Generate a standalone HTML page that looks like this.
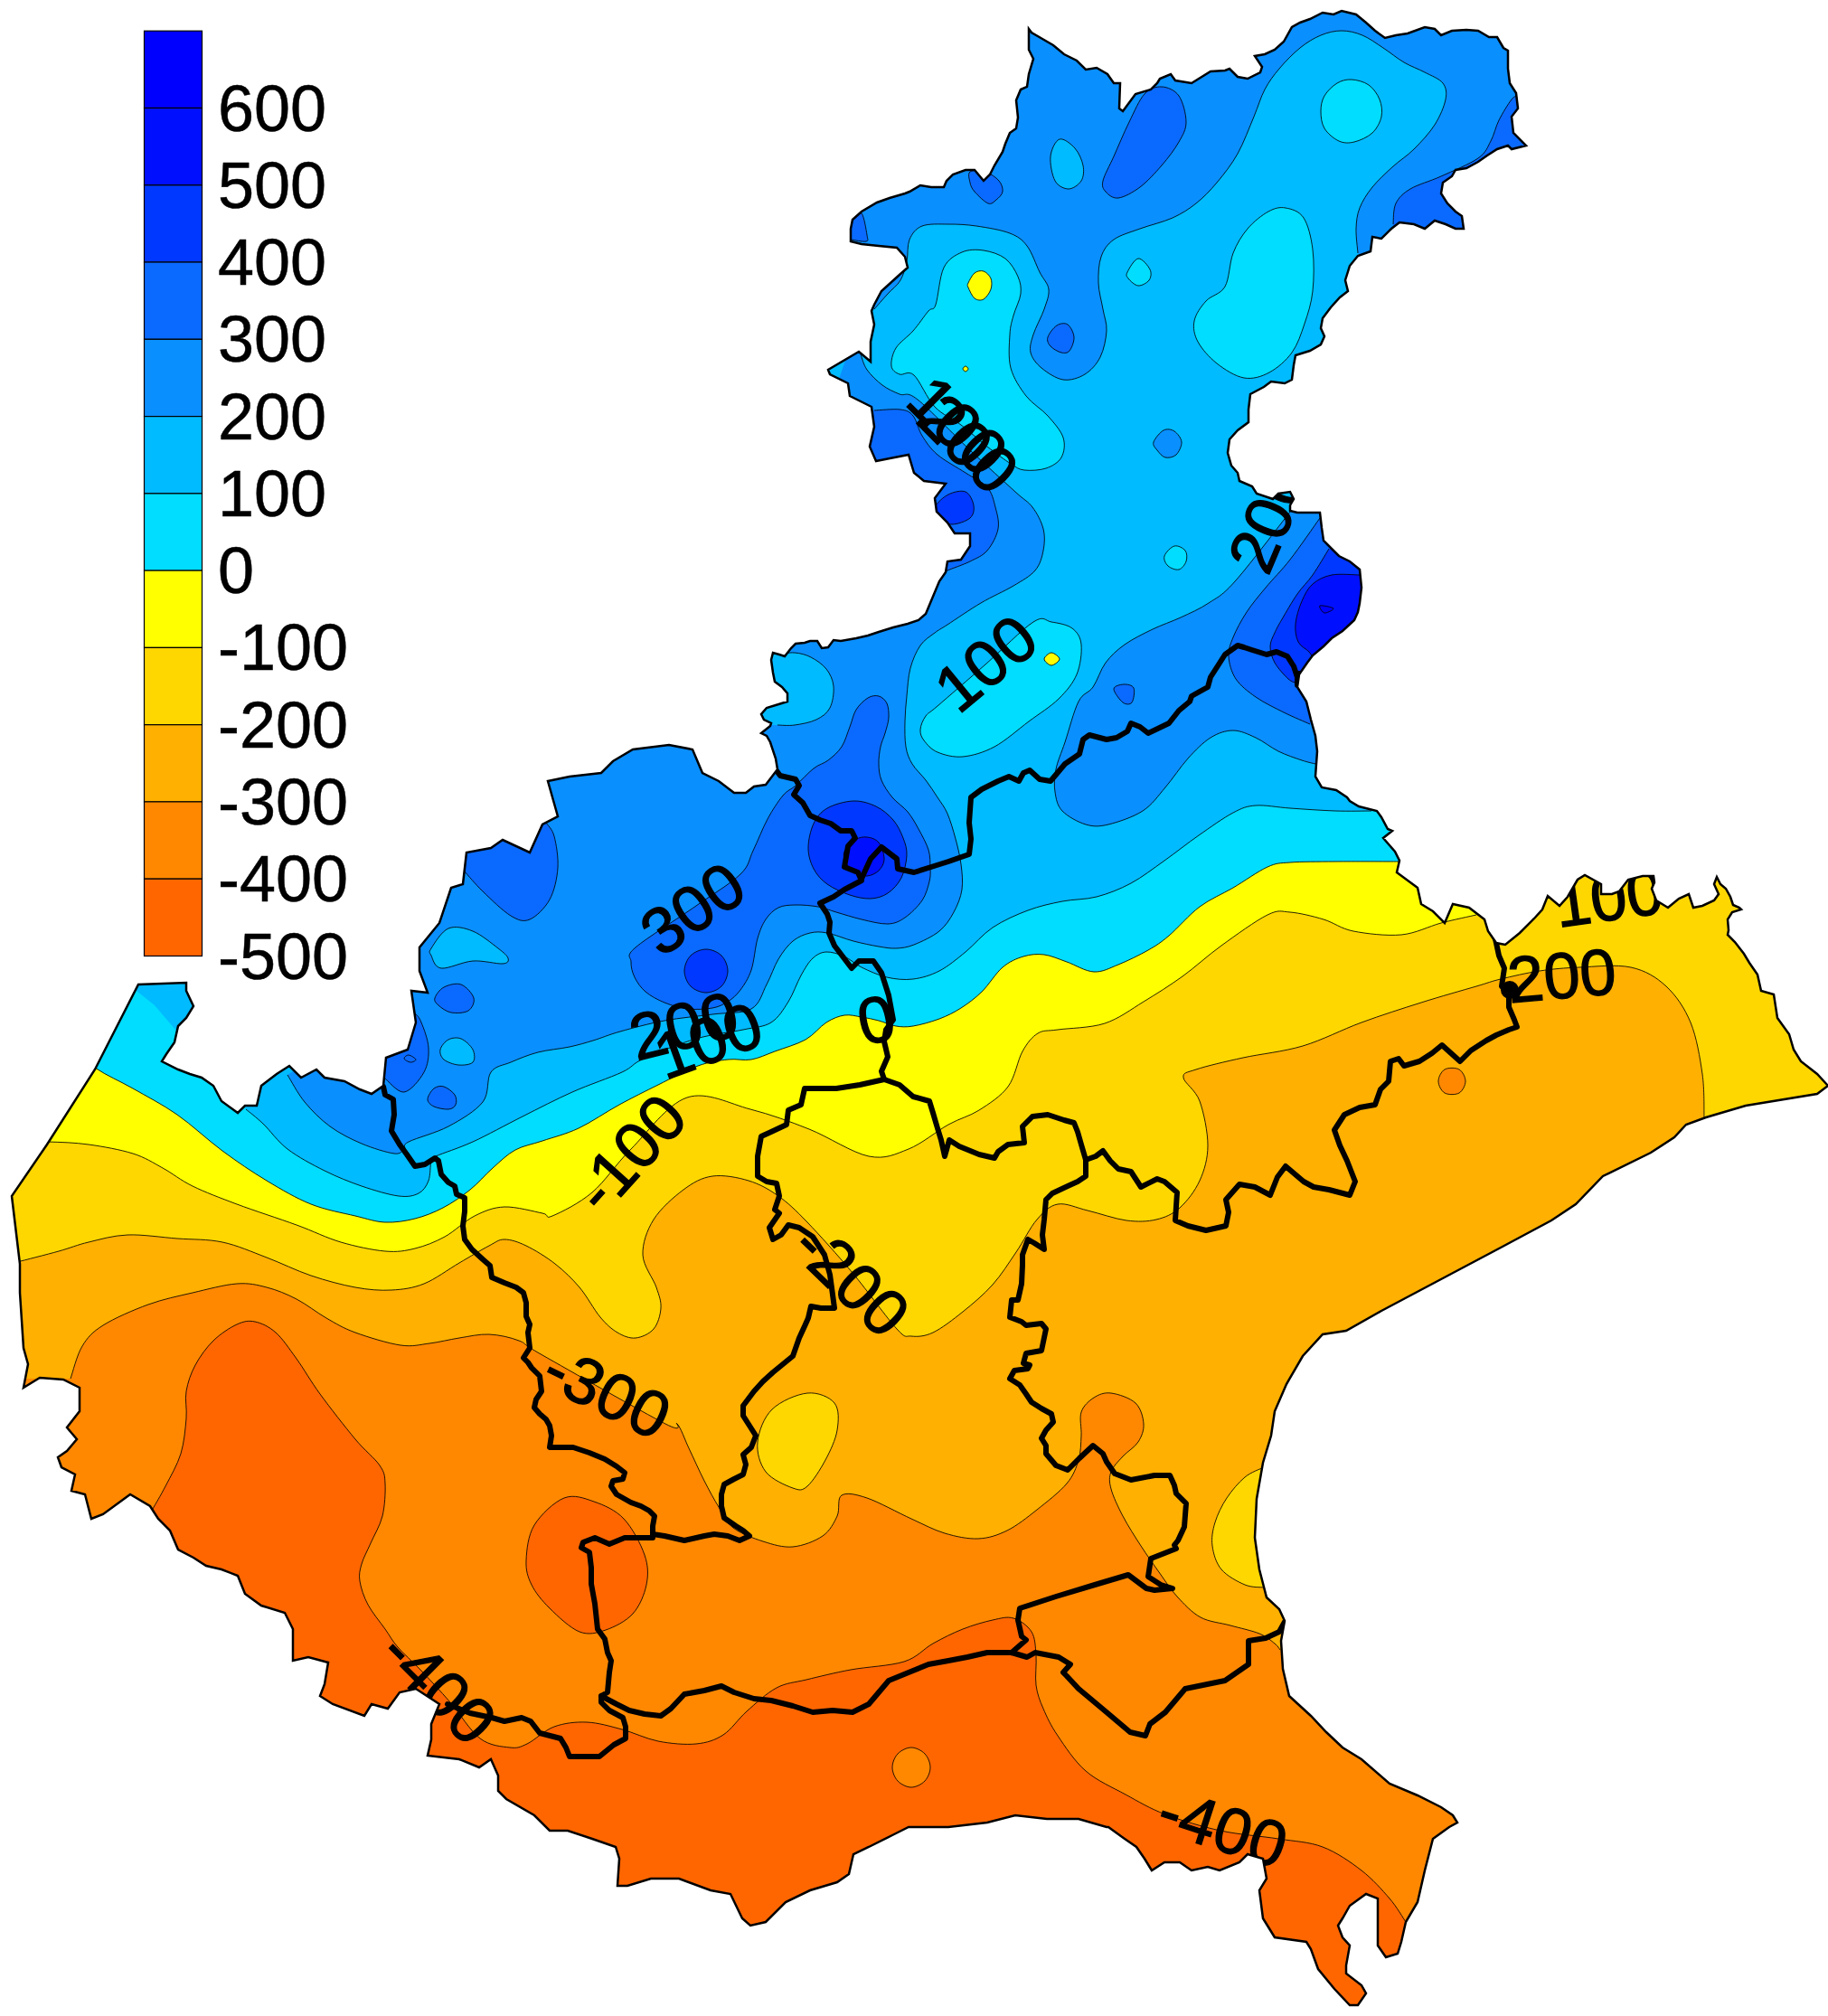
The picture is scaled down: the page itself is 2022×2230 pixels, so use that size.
<!DOCTYPE html>
<html><head><meta charset="utf-8"><style>
html,body{margin:0;padding:0;background:#fff;}
svg{display:block;}
text{font-family:"Liberation Sans",sans-serif;}
</style></head><body>
<svg width="2022" height="2230" viewBox="0 0 2022 2230" xmlns="http://www.w3.org/2000/svg">
<defs><clipPath id="cp"><path d="M1138,32 L1141,36 L1153,43 L1165,50 L1177,60 L1191,67 L1201,77 L1213,75 L1225,82 L1232,92 L1239,92 L1238,120 L1242,123 L1256,104 L1273,99 L1280,92 L1283,87 L1295,82 L1300,89 L1318,92 L1339,79 L1355,78 L1360,76 L1369,85 L1380,87 L1394,80 L1396,74 L1388,62 L1399,60 L1410,55 L1420,46 L1429,30 L1438,25 L1449,21 L1463,14 L1475,16 L1484,12 L1500,16 L1511,25 L1521,34 L1532,42 L1544,39 L1557,37 L1576,30 L1587,32 L1594,39 L1606,34 L1622,33 L1635,34 L1647,41 L1656,41 L1663,53 L1668,56 L1668,76 L1670,92 L1677,103 L1679,120 L1672,129 L1674,147 L1688,161 L1672,165 L1668,161 L1656,165 L1645,172 L1635,179 L1622,186 L1610,188 L1606,195 L1596,202 L1594,214 L1601,225 L1610,234 L1617,239 L1619,253 L1610,253 L1599,248 L1587,244 L1576,253 L1564,248 L1548,246 L1539,253 L1528,264 L1518,262 L1516,278 L1502,283 L1493,294 L1488,310 L1491,322 L1482,329 L1472,340 L1463,352 L1461,363 L1465,372 L1461,381 L1449,388 L1433,393 L1431,404 L1429,420 L1421,424 L1406,422 L1398,428 L1383,436 L1381,453 L1381,467 L1369,476 L1360,486 L1358,501 L1362,515 L1369,523 L1371,532 L1385,538 L1390,546 L1408,552 L1414,546 L1427,544 L1431,552 L1427,559 L1427,565 L1435,567 L1460,567 L1462,584 L1464,598 L1473,607 L1481,615 L1493,621 L1504,630 L1506,650 L1504,667 L1502,677 L1498,686 L1485,698 L1473,706 L1464,715 L1452,725 L1446,733 L1437,746 L1435,760 L1445,776 L1450,796 L1455,814 L1457,831 L1455,859 L1462,871 L1478,874 L1490,882 L1493,886 L1503,892 L1523,897 L1528,904 L1535,917 L1540,919 L1530,927 L1543,942 L1548,952 L1545,965 L1568,982 L1572,1000 L1585,1008 L1598,1021 L1607,1000 L1625,1004 L1642,1017 L1646,1030 L1655,1043 L1665,1045 L1681,1032 L1697,1016 L1706,1006 L1712,991 L1725,1002 L1734,992 L1745,973 L1753,968 L1771,978 L1771,989 L1783,989 L1791,986 L1801,973 L1817,969 L1829,969 L1830,976 L1827,983 L1832,996 L1845,1004 L1857,994 L1868,989 L1873,1004 L1883,1002 L1896,996 L1901,989 L1896,978 L1899,970 L1903,978 L1909,983 L1914,992 L1917,1001 L1924,1004 L1926,1006 L1916,1009 L1911,1017 L1912,1029 L1911,1034 L1919,1042 L1929,1055 L1935,1065 L1944,1078 L1948,1096 L1962,1100 L1966,1126 L1979,1144 L1984,1161 L1992,1174 L2010,1188 L2022,1201 L2010,1210 L1931,1223 L1887,1236 L1865,1244 L1852,1258 L1826,1275 L1773,1301 L1743,1332 L1716,1350 L1660,1380 L1594,1415 L1528,1450 L1489,1472 L1463,1476 L1441,1500 L1423,1531 L1410,1561 L1406,1588 L1397,1618 L1390,1658 L1388,1701 L1393,1736 L1401,1767 L1415,1780 L1421,1793 L1417,1815 L1419,1846 L1426,1876 L1450,1898 L1467,1916 L1485,1933 L1506,1946 L1537,1973 L1568,1986 L1594,1999 L1607,2008 L1612,2016 L1603,2021 L1585,2034 L1576,2069 L1568,2104 L1555,2126 L1550,2148 L1546,2161 L1533,2165 L1524,2152 L1524,2122 L1524,2100 L1511,2095 L1493,2108 L1485,2122 L1480,2130 L1485,2143 L1493,2152 L1489,2174 L1489,2183 L1506,2196 L1511,2205 L1502,2218 L1493,2218 L1476,2200 L1458,2178 L1450,2156 L1445,2148 L1410,2143 L1397,2122 L1393,2091 L1401,2078 L1397,2056 L1380,2051 L1371,2060 L1349,2069 L1336,2065 L1318,2069 L1305,2060 L1288,2060 L1274,2069 L1266,2056 L1257,2043 L1244,2034 L1226,2021 L1224,2021 L1193,2012 L1158,2012 L1123,2008 L1092,2016 L1049,2021 L1005,2021 L987,2030 L961,2043 L944,2051 L939,2073 L926,2082 L896,2091 L869,2104 L847,2126 L830,2130 L821,2122 L808,2095 L786,2091 L751,2078 L720,2078 L694,2086 L683,2086 L685,2056 L681,2043 L655,2034 L628,2025 L608,2025 L591,2008 L560,1990 L551,1981 L551,1964 L543,1946 L530,1955 L508,1946 L473,1942 L477,1924 L477,1907 L486,1885 L460,1868 L442,1872 L429,1890 L411,1885 L403,1898 L368,1885 L354,1876 L359,1863 L363,1839 L341,1833 L324,1837 L324,1802 L315,1784 L289,1776 L271,1763 L263,1743 L245,1736 L228,1732 L214,1723 L197,1714 L188,1693 L175,1680 L166,1666 L144,1653 L114,1675 L101,1680 L94,1653 L79,1649 L83,1631 L68,1623 L64,1612 L74,1605 L85,1592 L74,1579 L88,1561 L88,1535 L70,1526 L44,1524 L26,1535 L31,1509 L26,1491 L22,1430 L22,1398 L13,1323 L52,1266 L105,1183 L153,1089 L206,1087 L206,1096 L214,1113 L206,1126 L197,1135 L193,1153 L184,1166 L179,1174 L197,1183 L210,1188 L223,1192 L236,1201 L245,1218 L263,1231 L271,1223 L284,1223 L289,1201 L306,1188 L320,1179 L333,1192 L350,1183 L359,1192 L381,1196 L398,1205 L411,1210 L424,1201 L427,1170 L451,1161 L460,1131 L455,1096 L473,1098 L464,1074 L464,1048 L486,1021 L499,982 L512,978 L516,943 L543,938 L556,929 L586,943 L600,912 L617,903 L606,864 L630,859 L665,855 L678,842 L700,829 L740,824 L766,829 L777,855 L795,864 L812,877 L825,877 L834,870 L847,868 L860,851 L858,839 L852,821 L848,814 L842,811 L852,803 L853,800 L845,796 L842,790 L848,783 L858,780 L871,776 L871,767 L865,760 L857,754 L855,744 L853,730 L855,722 L862,724 L868,726 L875,717 L880,712 L890,711 L896,709 L904,709 L909,717 L916,716 L922,708 L930,709 L947,706 L960,703 L972,699 L988,694 L1004,690 L1016,686 L1024,679 L1029,667 L1039,643 L1046,633 L1048,621 L1063,619 L1073,604 L1073,590 L1056,590 L1048,578 L1036,566 L1034,551 L1046,535 L1022,532 L1011,523 L1005,503 L969,510 L962,494 L967,472 L964,450 L940,438 L938,424 L918,414 L916,409 L950,389 L963,400 L963,378 L967,359 L964,344 L967,337 L975,322 L996,303 L1004,296 L1001,284 L992,274 L972,272 L953,270 L941,267 L941,253 L943,243 L953,234 L970,224 L984,219 L1001,214 L1006,212 L1018,205 L1030,207 L1044,207 L1047,200 L1054,193 L1068,188 L1078,188 L1088,200 L1095,193 L1100,183 L1109,168 L1112,159 L1117,147 L1124,142 L1126,130 L1124,111 L1129,99 L1136,96 L1138,82 L1143,65 L1138,55Z"/></clipPath></defs>
<g clip-path="url(#cp)">
<rect x="0" y="0" width="2022" height="2230" fill="#FF6600"/>
<path d="M169,1669 C171.3,1664.8 177.8,1654.2 183,1644 C188.2,1633.8 196.2,1620.5 200,1608 C203.8,1595.5 205,1580.5 206,1569 C207,1557.5 204.3,1548.8 206,1539 C207.7,1529.2 211,1519.3 216,1510 C221,1500.7 228.3,1490.5 236,1483 C243.7,1475.5 254.3,1468.5 262,1465 C269.7,1461.5 274.8,1460.5 282,1462 C289.2,1463.5 297.3,1467.2 305,1474 C312.7,1480.8 319.8,1491.7 328,1503 C336.2,1514.3 343.2,1527.2 354,1542 C364.8,1556.8 382,1578.8 393,1592 C404,1605.2 414.5,1612.8 420,1621 C425.5,1629.2 425.5,1631.7 426,1641 C426.5,1650.3 425.7,1666 423,1677 C420.3,1688 413.8,1698.2 410,1707 C406.2,1715.8 402,1723 400,1730 C398,1737 396.8,1741.5 398,1749 C399.2,1756.5 402.3,1766.2 407,1775 C411.7,1783.8 420.5,1794.2 426,1802 C431.5,1809.8 433.5,1814.5 440,1822 C446.5,1829.5 455.3,1836.8 465,1847 C474.7,1857.2 487,1870.3 498,1883 C509,1895.7 520,1914.7 531,1923 C542,1931.3 555.3,1932 564,1933 C572.7,1934 574.8,1932.8 583,1929 C591.2,1925.2 602,1914 613,1910 C624,1906 636.5,1904.5 649,1905 C661.5,1905.5 674.8,1909.5 688,1913 C701.2,1916.5 714.3,1923.3 728,1926 C741.7,1928.7 758,1930.2 770,1929 C782,1927.8 790.7,1925 800,1919 C809.3,1913 816.2,1901.7 826,1893 C835.8,1884.3 848,1872.8 859,1867 C870,1861.2 878.3,1861.3 892,1858 C905.7,1854.7 923,1850.3 941,1847 C959,1843.7 984.8,1842.8 1000,1838 C1015.2,1833.2 1021.2,1824 1032,1818 C1042.8,1812 1054,1806.3 1065,1802 C1076,1797.7 1088.7,1794 1098,1792 C1107.3,1790 1113.8,1787.8 1121,1790 C1128.2,1792.2 1136.8,1798.2 1141,1805 C1145.2,1811.8 1145.2,1821.2 1146,1831 C1146.8,1840.8 1144.7,1854.2 1146,1864 C1147.3,1873.8 1150,1880.7 1154,1890 C1158,1899.3 1162.2,1908.5 1170,1920 C1177.8,1931.5 1188.5,1948.2 1201,1959 C1213.5,1969.8 1230.3,1977 1245,1985 C1259.7,1993 1271.5,2000.3 1289,2007 C1306.5,2013.7 1329.2,2020.5 1350,2025 C1370.8,2029.5 1395.2,2031 1414,2034 C1432.8,2037 1447.7,2037.2 1463,2043 C1478.3,2048.8 1493.7,2059.5 1506,2069 C1518.3,2078.5 1528.8,2090.5 1537,2100 C1545.2,2109.5 1552,2121.7 1555,2126 L1580,2110 L2100,2110 L2100,-50 L-50,-50 L-50,1700 L140,1700Z" fill="#FF8800"/>
<path d="M987,1955 C987,1950 989.5,1943.7 993,1940 C996.5,1936.3 1003,1933 1008,1933 C1013,1933 1019.5,1936.3 1023,1940 C1026.5,1943.7 1029,1950 1029,1955 C1029,1960 1026.5,1966.3 1023,1970 C1019.5,1973.7 1013,1977 1008,1977 C1003,1977 996.5,1973.7 993,1970 C989.5,1966.3 987,1960 987,1955Z" fill="#FF8800"/>
<path d="M582,1726 C582.5,1715 584,1698.5 591,1687 C598,1675.5 613,1661.3 624,1657 C635,1652.7 646,1657.2 657,1661 C668,1664.8 680.7,1670.2 690,1680 C699.3,1689.8 708.8,1707.8 713,1720 C717.2,1732.2 717.2,1742.2 715,1753 C712.8,1763.8 707.5,1776.7 700,1785 C692.5,1793.3 679.8,1799.7 670,1803 C660.2,1806.3 651.3,1809 641,1805 C630.7,1801 616.8,1787.7 608,1779 C599.2,1770.3 592.3,1761.8 588,1753 C583.7,1744.2 581.5,1737 582,1726Z" fill="#FF6600"/>
<path d="M78,1525 C80.2,1519 85,1498.8 91,1489 C97,1479.2 101.8,1473.7 114,1466 C126.2,1458.3 147.5,1449 164,1443 C180.5,1437 196.7,1433.8 213,1430 C229.3,1426.2 248.3,1421 262,1420 C275.7,1419 284,1421.2 295,1424 C306,1426.8 317,1431.3 328,1437 C339,1442.7 350.2,1451.8 361,1458 C371.8,1464.2 379.3,1469 393,1474 C406.7,1479 429.3,1486 443,1488 C456.7,1490 464.2,1487.3 475,1486 C485.8,1484.7 497,1481.7 508,1480 C519,1478.3 530,1475.5 541,1476 C552,1476.5 564.2,1479.2 574,1483 C583.8,1486.8 573,1483.7 600,1499 C627,1514.3 711.2,1562.3 736,1575 C760.8,1587.7 744.7,1570.5 749,1575 C753.3,1579.5 757,1591.5 762,1602 C767,1612.5 773.5,1627.2 779,1638 C784.5,1648.8 789.7,1658.3 795,1667 C800.3,1675.7 802.8,1683.7 811,1690 C819.2,1696.3 833,1701.5 844,1705 C855,1708.5 866,1712 877,1711 C888,1710 901.8,1704.7 910,1699 C918.2,1693.3 922.5,1684.5 926,1677 C929.5,1669.5 925.5,1657.3 931,1654 C936.5,1650.7 946.2,1652.7 959,1657 C971.8,1661.3 993.7,1673.5 1008,1680 C1022.3,1686.5 1032.7,1692.3 1045,1696 C1057.3,1699.7 1070.5,1702.5 1082,1702 C1093.5,1701.5 1103.2,1698.3 1114,1693 C1124.8,1687.7 1136,1678.7 1147,1670 C1158,1661.3 1172.3,1650.2 1180,1641 C1187.7,1631.8 1190.3,1623.8 1193,1615 C1195.7,1606.2 1195.5,1596.8 1196,1588 C1196.5,1579.2 1193.7,1569 1196,1562 C1198.3,1555 1204.5,1549.5 1210,1546 C1215.5,1542.5 1221.3,1540 1229,1541 C1236.7,1542 1250,1546.3 1256,1552 C1262,1557.7 1264.5,1567.8 1265,1575 C1265.5,1582.2 1262.8,1589 1259,1595 C1255.2,1601 1247,1605.5 1242,1611 C1237,1616.5 1231.2,1622 1229,1628 C1226.8,1634 1226.8,1638.8 1229,1647 C1231.2,1655.2 1236.5,1666.5 1242,1677 C1247.5,1687.5 1255.3,1699.7 1262,1710 C1268.7,1720.3 1275.3,1729.7 1282,1739 C1288.7,1748.3 1294.3,1757.7 1302,1766 C1309.7,1774.3 1318.2,1783.7 1328,1789 C1337.8,1794.3 1350.2,1795 1361,1798 C1371.8,1801 1384.8,1803.7 1393,1807 C1401.2,1810.3 1406.2,1815 1410,1818 C1413.8,1821 1415,1823.8 1416,1825 L1430,1815 L2100,1815 L2100,-50 L-50,-50 L-50,1525Z" fill="#FFB000"/>
<path d="M1591,1196 C1591,1191.7 1594.2,1185.2 1598,1183 C1601.8,1180.8 1610.2,1180.8 1614,1183 C1617.8,1185.2 1621,1191.7 1621,1196 C1621,1200.3 1617.8,1206.8 1614,1209 C1610.2,1211.2 1601.8,1211.2 1598,1209 C1594.2,1206.8 1591,1200.3 1591,1196Z" fill="#FF8800"/>
<path d="M19,1396 C26.7,1394 51.8,1387.7 65,1384 C78.2,1380.3 85.3,1377 98,1374 C110.7,1371 124.7,1366.7 141,1366 C157.3,1365.3 178.5,1368.7 196,1370 C213.5,1371.3 229.5,1370.5 246,1374 C262.5,1377.5 278.7,1384.8 295,1391 C311.3,1397.2 327.7,1405.5 344,1411 C360.3,1416.5 378.2,1421.3 393,1424 C407.8,1426.7 420.3,1427.7 433,1427 C445.7,1426.3 456.5,1425 469,1420 C481.5,1415 496,1404 508,1397 C520,1390 532.7,1382.3 541,1378 C549.3,1373.7 551.2,1371 558,1371 C564.8,1371 572.7,1373.5 582,1378 C591.3,1382.5 604.2,1390.3 614,1398 C623.8,1405.7 632.7,1414.2 641,1424 C649.3,1433.8 657,1448.7 664,1457 C671,1465.3 676.5,1470.2 683,1474 C689.5,1477.8 696.3,1480.7 703,1480 C709.7,1479.3 718.3,1475.5 723,1470 C727.7,1464.5 730.5,1454.7 731,1447 C731.5,1439.3 729.3,1433.8 726,1424 C722.7,1414.2 711.5,1400.5 711,1388 C710.5,1375.5 715.5,1361 723,1349 C730.5,1337 745.2,1324 756,1316 C766.8,1308 776,1302.7 788,1301 C800,1299.3 815.8,1302.3 828,1306 C840.2,1309.7 850.2,1315.3 861,1323 C871.8,1330.7 879.3,1337.8 893,1352 C906.7,1366.2 926.5,1388.3 943,1408 C959.5,1427.7 981.2,1458.3 992,1470 C1002.8,1481.7 1001.3,1477.3 1008,1478 C1014.7,1478.7 1022.5,1478.5 1032,1474 C1041.5,1469.5 1054,1459.8 1065,1451 C1076,1442.2 1088.2,1432 1098,1421 C1107.8,1410 1115.8,1397 1124,1385 C1132.2,1373 1139.3,1357.8 1147,1349 C1154.7,1340.2 1160.7,1333.7 1170,1332 C1179.3,1330.3 1190.3,1336 1203,1339 C1215.7,1342 1233.3,1348.3 1246,1350 C1258.7,1351.7 1269.2,1351.3 1279,1349 C1288.8,1346.7 1297,1343.2 1305,1336 C1313,1328.8 1321.8,1317.5 1327,1306 C1332.2,1294.5 1336,1281.7 1336,1267 C1336,1252.3 1331.5,1230.5 1327,1218 C1322.5,1205.5 1309.7,1197.8 1309,1192 C1308.3,1186.2 1312,1186.7 1323,1183 C1334,1179.3 1355.3,1174.3 1375,1170 C1394.7,1165.7 1419.2,1163.5 1441,1157 C1462.8,1150.5 1484.2,1139 1506,1131 C1527.8,1123 1550.8,1115.7 1572,1109 C1593.2,1102.3 1618.3,1095.3 1633,1091 C1647.7,1086.7 1648.3,1085.8 1660,1083 C1671.7,1080.2 1688.5,1076.2 1703,1074 C1717.5,1071.8 1730.2,1070.7 1747,1070 C1763.8,1069.3 1788,1066.5 1804,1070 C1820,1073.5 1832,1080.8 1843,1091 C1854,1101.2 1863.3,1114.8 1870,1131 C1876.7,1147.2 1880.5,1170.5 1883,1188 C1885.5,1205.5 1884.7,1228 1885,1236 L1900,1240 L2100,1240 L2100,-50 L-50,-50 L-50,1397Z" fill="#FFD700"/>
<path d="M838,1595 C839.2,1583.5 844.8,1568 854,1559 C863.2,1550 881.5,1542.2 893,1541 C904.5,1539.8 917.5,1545.2 923,1552 C928.5,1558.8 927.7,1571.5 926,1582 C924.3,1592.5 918.5,1604.7 913,1615 C907.5,1625.3 899,1638.8 893,1644 C887,1649.2 884.7,1648.7 877,1646 C869.3,1643.3 853.5,1636.5 847,1628 C840.5,1619.5 836.8,1606.5 838,1595Z" fill="#FFD700"/>
<path d="M1398,1623 C1394.5,1624.8 1383.8,1628.3 1377,1634 C1370.2,1639.7 1362.5,1648.7 1357,1657 C1351.5,1665.3 1346.7,1675.2 1344,1684 C1341.3,1692.8 1339.8,1701.3 1341,1710 C1342.2,1718.7 1345,1728.8 1351,1736 C1357,1743.2 1369.2,1749.7 1377,1753 C1384.8,1756.3 1394.5,1755.5 1398,1756 L1460,1756 L1460,1623Z" fill="#FFD700"/>
<path d="M0,1263 C8.7,1263 35.7,1262.5 52,1263 C68.3,1263.5 82.2,1263.8 98,1266 C113.8,1268.2 133.3,1271.7 147,1276 C160.7,1280.3 169,1286 180,1292 C191,1298 199.3,1305.3 213,1312 C226.7,1318.7 242.8,1324.8 262,1332 C281.2,1339.2 308.8,1348 328,1355 C347.2,1362 360.7,1369.2 377,1374 C393.3,1378.8 412.3,1382.8 426,1384 C439.7,1385.2 448,1383.7 459,1381 C470,1378.3 481,1374 492,1368 C503,1362 514,1350.5 525,1345 C536,1339.5 545.5,1335.5 558,1335 C570.5,1334.5 591.2,1340.3 600,1342 C608.8,1343.7 601.8,1348.8 611,1345 C620.2,1341.2 640.5,1331.3 655,1319 C669.5,1306.7 680.5,1288.5 698,1271 C715.5,1253.5 738,1221.3 760,1214 C782,1206.7 807.5,1221.2 830,1227 C852.5,1232.8 873.2,1240.3 895,1249 C916.8,1257.7 942.7,1275.3 961,1279 C979.3,1282.7 990.3,1276.8 1005,1271 C1019.7,1265.2 1036,1251.2 1049,1244 C1062,1236.8 1072,1235 1083,1228 C1094,1221 1107,1212.8 1115,1202 C1123,1191.2 1125.5,1172.8 1131,1163 C1136.5,1153.2 1141.5,1147 1148,1143 C1154.5,1139 1157.7,1140.8 1170,1139 C1182.3,1137.2 1206.2,1137.2 1222,1132 C1237.8,1126.8 1250.7,1116.7 1265,1108 C1279.3,1099.3 1293.7,1090.3 1308,1080 C1322.3,1069.7 1335.3,1057.3 1351,1046 C1366.7,1034.7 1389.3,1018.2 1402,1012 C1414.7,1005.8 1416.7,1008.2 1427,1009 C1437.3,1009.8 1452.3,1013.5 1464,1017 C1475.7,1020.5 1482.7,1027.2 1497,1030 C1511.3,1032.8 1533.8,1035.5 1550,1034 C1566.2,1032.5 1580.2,1024.7 1594,1021 C1607.8,1017.3 1626.5,1013.5 1633,1012 L1650,995 L1700,960 L2100,940 L2100,-50 L-50,-50 L-50,1263Z" fill="#FFFF00"/>
<path d="M65,1148 C71.7,1153.5 91.3,1171.7 105,1181 C118.7,1190.3 131.8,1195.3 147,1204 C162.2,1212.7 179.5,1221.5 196,1233 C212.5,1244.5 229.5,1260.8 246,1273 C262.5,1285.2 278.7,1296.2 295,1306 C311.3,1315.8 327.7,1325.5 344,1332 C360.3,1338.5 379.3,1341.7 393,1345 C406.7,1348.3 415,1351.5 426,1352 C437,1352.5 448.3,1350.7 459,1348 C469.7,1345.3 479.8,1341.3 490,1336 C500.2,1330.7 510.8,1323.3 520,1316 C529.2,1308.7 536.7,1299.3 545,1292 C553.3,1284.7 560.8,1277 570,1272 C579.2,1267 588.3,1266 600,1262 C611.7,1258 625.8,1254.7 640,1248 C654.2,1241.3 670.3,1230 685,1222 C699.7,1214 713.5,1207.2 728,1200 C742.5,1192.8 759.2,1183.7 772,1179 C784.8,1174.3 795.2,1173.2 805,1172 C814.8,1170.8 822.3,1173.5 831,1172 C839.7,1170.5 847,1166.7 857,1163 C867,1159.3 881.5,1155.3 891,1150 C900.5,1144.7 906.8,1135.5 914,1131 C921.2,1126.5 927.5,1124 934,1123 C940.5,1122 946.7,1124 953,1125 C959.3,1126 965.7,1127.3 972,1129 C978.3,1130.7 984.7,1134 991,1135 C997.3,1136 1002,1136.3 1010,1135 C1018,1133.7 1030.2,1130.3 1039,1127 C1047.8,1123.7 1055.2,1120 1063,1115 C1070.8,1110 1078.3,1104.5 1086,1097 C1093.7,1089.5 1101.3,1076.5 1109,1070 C1116.7,1063.5 1124.3,1060.3 1132,1058 C1139.7,1055.7 1147,1055 1155,1056 C1163,1057 1170.8,1060.8 1180,1064 C1189.2,1067.2 1200.5,1074.5 1210,1075 C1219.5,1075.5 1227,1071 1237,1067 C1247,1063 1260.7,1056.3 1270,1051 C1279.3,1045.7 1283.5,1043 1293,1035 C1302.5,1027 1315.2,1011.8 1327,1003 C1338.8,994.2 1351.5,989.3 1364,982 C1376.5,974.7 1391.5,963.7 1402,959 C1412.5,954.3 1414.5,955 1427,954 C1439.5,953 1457,953.2 1477,953 C1497,952.8 1535.3,953 1547,953 L1560,940 L1600,900 L2100,900 L2100,-50 L-50,-50 L-50,1148Z" fill="#00DDFF"/>
<path d="M272,1227 C275.2,1229.7 283.3,1235.7 291,1243 C298.7,1250.3 306.7,1262.3 318,1271 C329.3,1279.7 345.3,1288.2 359,1295 C372.7,1301.8 386.3,1307.3 400,1312 C413.7,1316.7 430.5,1321.7 441,1323 C451.5,1324.3 457.5,1322.8 463,1320 C468.5,1317.2 471.7,1312 474,1306 C476.3,1300 475.7,1288.5 477,1284 C478.3,1279.5 474.3,1282.5 482,1279 C489.7,1275.5 507,1270.3 523,1263 C539,1255.7 559.7,1244.2 578,1235 C596.3,1225.8 614.7,1216.2 633,1208 C651.3,1199.8 674.8,1192.2 688,1186 C701.2,1179.8 698.3,1177.2 712,1171 C725.7,1164.8 751.7,1154.3 770,1149 C788.3,1143.7 808.2,1142 822,1139 C835.8,1136 844.7,1136.2 853,1131 C861.3,1125.8 866.5,1116.7 872,1108 C877.5,1099.3 881.5,1087 886,1079 C890.5,1071 894.3,1064.3 899,1060 C903.7,1055.7 908.2,1053.3 914,1053 C919.8,1052.7 927.5,1055.2 934,1058 C940.5,1060.8 945.2,1066.2 953,1070 C960.8,1073.8 971.5,1078.8 981,1081 C990.5,1083.2 1000.3,1084.2 1010,1083 C1019.7,1081.8 1029.3,1079 1039,1074 C1048.7,1069 1058.2,1061 1068,1053 C1077.8,1045 1086.5,1033.7 1098,1026 C1109.5,1018.3 1124.2,1011.8 1137,1007 C1149.8,1002.2 1162.3,999.5 1175,997 C1187.7,994.5 1200.3,995.3 1213,992 C1225.7,988.7 1238.5,983.7 1251,977 C1263.5,970.3 1275.5,960.8 1288,952 C1300.5,943.2 1313.3,932.8 1326,924 C1338.7,915.2 1353.5,904.5 1364,899 C1374.5,893.5 1378.5,891.8 1389,891 C1399.5,890.2 1412.3,893 1427,894 C1441.7,895 1462,896.5 1477,897 C1492,897.5 1510.3,897 1517,897 L1560,890 L2100,850 L2100,-50 L-50,-50 L-50,1080 L140,1085 L151,1096 L171,1112 L194,1139 L215,1139 L250,1191Z" fill="#00BBFF"/>
<path d="M967,342 C969.5,339.2 977.2,330.3 982,325 C986.8,319.7 992.5,316 996,310 C999.5,304 1001.3,296.5 1003,289 C1004.7,281.5 1003.2,271.5 1006,265 C1008.8,258.5 1012.8,252.8 1020,250 C1027.2,247.2 1039,248 1049,248 C1059,248 1068.7,248.3 1080,250 C1091.3,251.7 1107.7,254.3 1117,258 C1126.3,261.7 1130.5,264.8 1136,272 C1141.5,279.2 1146,293 1150,301 C1154,309 1159.2,313.2 1160,320 C1160.8,326.8 1157.8,333.7 1155,342 C1152.2,350.3 1145.5,362 1143,370 C1140.5,378 1138.5,383.8 1140,390 C1141.5,396.2 1146,402 1152,407 C1158,412 1168,418.8 1176,420 C1184,421.2 1193.2,418.2 1200,414 C1206.8,409.8 1213,403 1217,395 C1221,387 1223.5,374.8 1224,366 C1224.5,357.2 1221.5,350.8 1220,342 C1218.5,333.2 1215.3,322.7 1215,313 C1214.7,303.3 1215.2,292 1218,284 C1220.8,276 1224.8,270.2 1232,265 C1239.2,259.8 1250.2,257 1261,253 C1271.8,249 1286.7,245.7 1297,241 C1307.3,236.3 1314.8,231.5 1323,225 C1331.2,218.5 1338.3,211.2 1346,202 C1353.7,192.8 1362.2,182.2 1369,170 C1375.8,157.8 1382,140.8 1387,129 C1392,117.2 1394.3,107.8 1399,99 C1403.7,90.2 1408.5,83.7 1415,76 C1421.5,68.3 1430.3,59.2 1438,53 C1445.7,46.8 1453.3,42.2 1461,39 C1468.7,35.8 1476.3,34 1484,34 C1491.7,34 1499.3,35.8 1507,39 C1514.7,42.2 1522.3,48 1530,53 C1537.7,58 1545.3,64.5 1553,69 C1560.7,73.5 1568.8,76.2 1576,80 C1583.2,83.8 1592.2,87 1596,92 C1599.8,97 1600.5,102.3 1599,110 C1597.5,117.7 1592.8,128.8 1587,138 C1581.2,147.2 1571.7,157.3 1564,165 C1556.3,172.7 1548.7,177 1541,184 C1533.3,191 1524.2,199.3 1518,207 C1511.8,214.7 1507,222.3 1504,230 C1501,237.7 1500.3,244.7 1500,253 C1499.7,261.3 1501.7,275.5 1502,280 L1530,300 L2100,300 L2100,-50 L900,-50 L900,342Z" fill="#0A8FFF"/>
<path d="M952,392 C953.2,394.8 955,403.3 959,409 C963,414.7 970,421.5 976,426 C982,430.5 988.5,433.3 995,436 C1001.5,438.7 1002,431.7 1015,442 C1028,452.3 1055,481 1073,498 C1091,515 1111.5,533.5 1123,544 C1134.5,554.5 1136.8,554.2 1142,561 C1147.2,567.8 1152,577 1154,585 C1156,593 1155.5,601.3 1154,609 C1152.5,616.7 1150.5,624.5 1145,631 C1139.5,637.5 1131,642 1121,648 C1111,654 1097.2,659.8 1085,667 C1072.8,674.2 1056.5,685.5 1048,691 C1039.5,696.5 1039,696.2 1034,700 C1029,703.8 1022.5,707.5 1018,714 C1013.5,720.5 1009.5,729.7 1007,739 C1004.5,748.3 1004,760.2 1003,770 C1002,779.8 1001.2,788.7 1001,798 C1000.8,807.3 1000.7,818.2 1002,826 C1003.3,833.8 1005.3,838.8 1009,845 C1012.7,851.2 1019.3,856.8 1024,863 C1028.7,869.2 1033,875.8 1037,882 C1041,888.2 1044.7,892.3 1048,900 C1051.3,907.7 1054.5,918.7 1057,928 C1059.5,937.3 1061.8,946.7 1063,956 C1064.2,965.3 1065.3,975.2 1064,984 C1062.7,992.8 1059.2,1001.3 1055,1009 C1050.8,1016.7 1046.3,1024 1039,1030 C1031.7,1036 1019,1041.8 1011,1045 C1003,1048.2 997.5,1048.7 991,1049 C984.5,1049.3 979.8,1048.3 972,1047 C964.2,1045.7 953.5,1043.5 944,1041 C934.5,1038.5 923,1033.5 915,1032 C907,1030.5 902.3,1030.5 896,1032 C889.7,1033.5 882.8,1036.2 877,1041 C871.2,1045.8 865.8,1053 861,1061 C856.2,1069 853,1079.8 848,1089 C843,1098.2 841,1110.5 831,1116 C821,1121.5 804,1119.8 788,1122 C772,1124.2 752,1125.8 735,1129 C718,1132.2 699.2,1137.3 686,1141 C672.8,1144.7 665.3,1148.2 656,1151 C646.7,1153.8 640.2,1155.8 630,1158 C619.8,1160.2 605.8,1161.2 595,1164 C584.2,1166.8 573.7,1171.3 565,1175 C556.3,1178.7 548.2,1178.7 543,1186 C537.8,1193.3 541.8,1209 534,1219 C526.2,1229 509.7,1238.7 496,1246 C482.3,1253.3 460.2,1258.8 452,1263 C443.8,1267.2 449.7,1268.8 447,1271 C444.3,1273.2 443.8,1277 436,1276 C428.2,1275 411.8,1270 400,1265 C388.2,1260 375.5,1253.7 365,1246 C354.5,1238.3 344.8,1228.5 337,1219 C329.2,1209.5 321.2,1194 318,1189 L380,1150 L430,1000 L480,850 L800,700 L900,500 L945,370Z" fill="#0A8FFF"/>
<path d="M1431,561 C1420.3,574.5 1382.7,624.3 1367,642 C1351.3,659.7 1347.2,660.2 1337,667 C1326.8,673.8 1316.3,678.2 1306,683 C1295.7,687.8 1285.3,691 1275,696 C1264.7,701 1252.7,706.8 1244,713 C1235.3,719.2 1228.8,725.2 1223,733 C1217.2,740.8 1214,752.8 1209,760 C1204,767.2 1198.2,765.8 1193,776 C1187.8,786.2 1182.2,808.5 1178,821 C1173.8,833.5 1169.8,841.8 1168,851 C1166.2,860.2 1165.8,868.3 1167,876 C1168.2,883.7 1169.3,891 1175,897 C1180.7,903 1192.5,909.5 1201,912 C1209.5,914.5 1215.5,914.5 1226,912 C1236.5,909.5 1253.5,903.8 1264,897 C1274.5,890.2 1280.7,880.7 1289,871 C1297.3,861.3 1305.7,848.2 1314,839 C1322.3,829.8 1330.7,821.2 1339,816 C1347.3,810.8 1355.7,808 1364,808 C1372.3,808 1380.7,812.2 1389,816 C1397.3,819.8 1405.5,826.8 1414,831 C1422.5,835.2 1433.2,838.7 1440,841 C1446.8,843.3 1452.5,844.3 1455,845 L1530,850 L1530,540 L1440,540Z" fill="#0A8FFF"/>
<path d="M1276,489 C1277.2,485.3 1283.2,478 1287,476 C1290.8,474 1295.7,474.8 1299,477 C1302.3,479.2 1306.7,484.7 1307,489 C1307.3,493.3 1304,500.2 1301,503 C1298,505.8 1292.5,506.8 1289,506 C1285.5,505.2 1282.2,500.8 1280,498 C1277.8,495.2 1274.8,492.7 1276,489Z" fill="#0A8FFF"/>
<path d="M477,1049 C480.2,1044 488.3,1030.2 496,1027 C503.7,1023.8 513.8,1026.3 523,1030 C532.2,1033.7 544.5,1044 551,1049 C557.5,1054 561.2,1057.2 562,1060 C562.8,1062.8 562.5,1065.5 556,1066 C549.5,1066.5 534.3,1062.2 523,1063 C511.7,1063.8 495.7,1072 488,1071 C480.3,1070 478.8,1060.7 477,1057 C475.2,1053.3 473.8,1054 477,1049Z" fill="#00BBFF"/>
<path d="M487,1161 C487.8,1157.3 492.2,1152 496,1150 C499.8,1148 505.5,1147.2 510,1149 C514.5,1150.8 520.8,1156.7 523,1161 C525.2,1165.3 525.7,1172.2 523,1175 C520.3,1177.8 512.3,1178.5 507,1178 C501.7,1177.5 494.3,1174.8 491,1172 C487.7,1169.2 486.2,1164.7 487,1161Z" fill="#00BBFF"/>
<path d="M860,724 C863.2,723.7 872.8,721.5 879,722 C885.2,722.5 891.2,724 897,727 C902.8,730 909.8,734.7 914,740 C918.2,745.3 921.3,751.8 922,759 C922.7,766.2 921.2,776.8 918,783 C914.8,789.2 909.5,792.8 903,796 C896.5,799.2 886.2,801 879,802 C871.8,803 863.2,802 860,802 L840,802 L840,724Z" fill="#00BBFF"/>
<path d="M1162,173 C1162.8,165.3 1167.5,155.5 1172,154 C1176.5,152.5 1184.7,159.2 1189,164 C1193.3,168.8 1196.8,177 1198,183 C1199.2,189 1198.7,195.7 1196,200 C1193.3,204.3 1186.8,209 1182,209 C1177.2,209 1170.3,206 1167,200 C1163.7,194 1161.2,180.7 1162,173Z" fill="#00BBFF"/>
<path d="M986,405 C985.3,400.2 987,391.5 991,385 C995,378.5 1004,372.8 1010,366 C1016,359.2 1022.8,348.8 1027,344 C1031.2,339.2 1032.2,345 1035,337 C1037.8,329 1039.2,305.7 1044,296 C1048.8,286.3 1056.7,282.2 1064,279 C1071.3,275.8 1080,275.8 1088,277 C1096,278.2 1105.7,281.2 1112,286 C1118.3,290.8 1123.2,299.5 1126,306 C1128.8,312.5 1129.8,317.8 1129,325 C1128.2,332.2 1123,341.5 1121,349 C1119,356.5 1117.5,360.3 1117,370 C1116.5,379.7 1115,395.7 1118,407 C1121,418.3 1128.2,429.2 1135,438 C1141.8,446.8 1152.2,452.3 1159,460 C1165.8,467.7 1173.5,476.3 1176,484 C1178.5,491.7 1177.2,500.3 1174,506 C1170.8,511.7 1163.8,515.7 1157,518 C1150.2,520.3 1139.5,520.8 1133,520 C1126.5,519.2 1124.8,517.3 1118,513 C1111.2,508.7 1101.2,501.2 1092,494 C1082.8,486.8 1072.7,477.3 1063,470 C1053.3,462.7 1042.7,459.2 1034,450 C1025.3,440.8 1017.5,421 1011,415 C1004.5,409 999.2,415.7 995,414 C990.8,412.3 986.7,409.8 986,405Z" fill="#00DDFF"/>
<path d="M1018,807 C1018.3,802.5 1020.8,796.3 1024,792 C1027.2,787.7 1026,790.5 1037,781 C1048,771.5 1072.3,750.5 1090,735 C1107.7,719.5 1130.8,695.8 1143,688 C1155.2,680.2 1155.8,686.8 1163,688 C1170.2,689.2 1180.5,690.8 1186,695 C1191.5,699.2 1195.2,704.5 1196,713 C1196.8,721.5 1195.2,736 1191,746 C1186.8,756 1179.8,764.3 1171,773 C1162.2,781.7 1149.8,789.2 1138,798 C1126.2,806.8 1112.2,819.5 1100,826 C1087.8,832.5 1075.5,836 1065,837 C1054.5,838 1044.2,835 1037,832 C1029.8,829 1025.2,823.2 1022,819 C1018.8,814.8 1017.7,811.5 1018,807Z" fill="#00DDFF"/>
<path d="M1461,123 C1461,117 1462,111.2 1465,106 C1468,100.8 1474,95 1479,92 C1484,89 1489.2,87.7 1495,88 C1500.8,88.3 1508.8,90.3 1514,94 C1519.2,97.7 1523.7,104.2 1526,110 C1528.3,115.8 1529.3,122.8 1528,129 C1526.7,135.2 1523,142.3 1518,147 C1513,151.7 1504.2,155.5 1498,157 C1491.8,158.5 1486.5,158.5 1481,156 C1475.5,153.5 1468.3,147.5 1465,142 C1461.7,136.5 1461,129 1461,123Z" fill="#00DDFF"/>
<path d="M1321,355 C1322.5,347.5 1328.3,339.3 1334,333 C1339.7,326.7 1350,325.8 1355,317 C1360,308.2 1359.8,290.7 1364,280 C1368.2,269.3 1373.5,260.7 1380,253 C1386.5,245.3 1396,237.8 1403,234 C1410,230.2 1415.5,228.8 1422,230 C1428.5,231.2 1437,233.3 1442,241 C1447,248.7 1450.3,262.5 1452,276 C1453.7,289.5 1453.5,308.3 1452,322 C1450.5,335.7 1446.8,346.7 1443,358 C1439.2,369.3 1435.5,381 1429,390 C1422.5,399 1412.8,407.3 1404,412 C1395.2,416.7 1385.7,419.7 1376,418 C1366.3,416.3 1354.5,408.7 1346,402 C1337.5,395.3 1329.2,385.8 1325,378 C1320.8,370.2 1319.5,362.5 1321,355Z" fill="#00DDFF"/>
<path d="M1247,301 C1248.8,297.3 1254.8,286.5 1259,286 C1263.2,285.5 1270,294 1272,298 C1274,302 1273.2,307 1271,310 C1268.8,313 1262.8,316.3 1259,316 C1255.2,315.7 1250,310.5 1248,308 C1246,305.5 1245.2,304.7 1247,301Z" fill="#00DDFF"/>
<path d="M1288,615 C1289.2,611.3 1295.2,605 1299,604 C1302.8,603 1308.8,606.2 1311,609 C1313.2,611.8 1313.2,617.5 1312,621 C1310.8,624.5 1307.3,629.2 1304,630 C1300.7,630.8 1294.7,628.5 1292,626 C1289.3,623.5 1286.8,618.7 1288,615Z" fill="#00DDFF"/>
<path d="M1071,313 C1072.2,310.3 1075.2,304.2 1078,302 C1080.8,299.8 1085,299 1088,300 C1091,301 1094.7,304.7 1096,308 C1097.3,311.3 1097.3,316.2 1096,320 C1094.7,323.8 1091,329.3 1088,331 C1085,332.7 1080.8,332.2 1078,330 C1075.2,327.8 1072.2,320.8 1071,318 C1069.8,315.2 1069.8,315.7 1071,313Z" fill="#FFFF00"/>
<path d="M1065,408 C1065,407 1067,405 1068,405 C1069,405 1071,407 1071,408 C1071,409 1069,411 1068,411 C1067,411 1065,409 1065,408Z" fill="#FFFF00"/>
<path d="M1155,729 C1155,726.7 1160.2,722 1163,722 C1165.8,722 1172,726.7 1172,729 C1172,731.3 1165.8,736 1163,736 C1160.2,736 1155,731.3 1155,729Z" fill="#FFFF00"/>
<path d="M703,1048 C715,1037.7 750.7,1015.5 770,1002 C789.3,988.5 808.5,977.2 819,967 C829.5,956.8 828,951.2 833,941 C838,930.8 843.5,916.2 849,906 C854.5,895.8 860.8,886.2 866,880 C871.2,873.8 874.3,874 880,869 C885.7,864 894,854.7 900,850 C906,845.3 910.8,845 916,841 C921.2,837 927,832.2 931,826 C935,819.8 937.3,810.8 940,804 C942.7,797.2 943.7,790.3 947,785 C950.3,779.7 955.8,774.5 960,772 C964.2,769.5 968.5,769 972,770 C975.5,771 979.2,774 981,778 C982.8,782 983.3,788.5 983,794 C982.7,799.5 980.5,805.7 979,811 C977.5,816.3 975.2,820.3 974,826 C972.8,831.7 971.8,838.8 972,845 C972.2,851.2 972.5,856.8 975,863 C977.5,869.2 982.2,876.2 987,882 C991.8,887.8 999.2,892.2 1004,898 C1008.8,903.8 1012.2,910 1016,917 C1019.8,924 1024.8,932.8 1027,940 C1029.2,947.2 1028.8,954.2 1029,960 C1029.2,965.8 1029.5,969 1028,975 C1026.5,981 1024.5,989.3 1020,996 C1015.5,1002.7 1007.3,1010.7 1001,1015 C994.7,1019.3 990,1021.7 982,1022 C974,1022.3 962.5,1019.2 953,1017 C943.5,1014.8 933,1011.3 925,1009 C917,1006.7 912.5,1004.3 905,1003 C897.5,1001.7 887.3,1000.8 880,1001 C872.7,1001.2 866.5,1001.3 861,1004 C855.5,1006.7 850.8,1011.3 847,1017 C843.2,1022.7 840.7,1028.7 838,1038 C835.3,1047.3 834.2,1063.5 831,1073 C827.8,1082.5 823.3,1089.2 819,1095 C814.7,1100.8 810.2,1104.7 805,1108 C799.8,1111.3 795.3,1113.7 788,1115 C780.7,1116.3 769.8,1117 761,1116 C752.2,1115 742.8,1112.2 735,1109 C727.2,1105.8 719.5,1101.7 714,1097 C708.5,1092.3 704.7,1086.5 702,1081 C699.3,1075.5 697.8,1069.5 698,1064 C698.2,1058.5 691,1058.3 703,1048Z" fill="#0A6AFF"/>
<path d="M514,964 C517.3,967.7 525.5,977.8 534,986 C542.5,994.2 556.3,1007.8 565,1013 C573.7,1018.2 578.8,1020 586,1017 C593.2,1014 602.8,1004.5 608,995 C613.2,985.5 616.2,971.7 617,960 C617.8,948.3 615.2,933.3 613,925 C610.8,916.7 605.5,912.5 604,910 L600,880 L500,880 L505,945Z" fill="#0A6AFF"/>
<path d="M425,1192 C428.7,1194.7 439.7,1209 447,1208 C454.3,1207 464.5,1194.2 469,1186 C473.5,1177.8 474.5,1168.2 474,1159 C473.5,1149.8 468.7,1137.5 466,1131 C463.3,1124.5 462,1123.7 458,1120 C454,1116.3 444.7,1110.8 442,1109 L414,1137Z" fill="#0A6AFF"/>
<path d="M967,454 C971.8,453.8 988.8,452 996,453 C1003.2,454 1006,455.2 1010,460 C1014,464.8 1015.5,474.8 1020,482 C1024.5,489.2 1029,496.2 1037,503 C1045,509.8 1058.8,517 1068,523 C1077.2,529 1086.5,532.7 1092,539 C1097.5,545.3 1099,553.3 1101,561 C1103,568.7 1105.5,577 1104,585 C1102.5,593 1097.2,603 1092,609 C1086.8,615 1080.3,617.3 1073,621 C1065.7,624.7 1052.5,629 1048,631 C1043.5,633 1046.3,632.7 1046,633 L1000,640 L960,600 L920,460Z" fill="#0A6AFF"/>
<path d="M1460,573 C1454.5,580.7 1437,606.2 1427,619 C1417,631.8 1408,640.3 1400,650 C1392,659.7 1385,667.8 1379,677 C1373,686.2 1367.3,696.8 1364,705 C1360.7,713.2 1358.5,718.3 1359,726 C1359.5,733.7 1362,743.5 1367,751 C1372,758.5 1380.2,764.8 1389,771 C1397.8,777.2 1410,783 1420,788 C1430,793 1444.2,798.8 1449,801 L1530,801 L1530,573Z" fill="#0A6AFF"/>
<path d="M1541,248 C1541.5,244.2 1540.8,231.5 1544,225 C1547.2,218.5 1551.7,214 1560,209 C1568.3,204 1581.5,200.7 1594,195 C1606.5,189.3 1625.8,181.5 1635,175 C1644.2,168.5 1645.2,163 1649,156 C1652.8,149 1654.2,140.7 1658,133 C1661.8,125.3 1668.5,114.5 1672,110 C1675.5,105.5 1677.8,106.7 1679,106 L1720,106 L1720,276 L1541,276Z" fill="#0A6AFF"/>
<path d="M1220,200 C1221.5,193.5 1227.2,183.8 1232,173 C1236.8,162.2 1243.3,146.5 1249,135 C1254.7,123.5 1260,110.5 1266,104 C1272,97.5 1278.7,95.7 1285,96 C1291.3,96.3 1299.5,99.5 1304,106 C1308.5,112.5 1312,126.5 1312,135 C1312,143.5 1308.5,149 1304,157 C1299.5,165 1292.2,174.7 1285,183 C1277.8,191.3 1269,201 1261,207 C1253,213 1243.3,218.2 1237,219 C1230.7,219.8 1225.8,215.2 1223,212 C1220.2,208.8 1218.5,206.5 1220,200Z" fill="#0A6AFF"/>
<path d="M1073,190 C1075.8,188 1084.7,188.3 1090,190 C1095.3,191.7 1101.8,196.3 1105,200 C1108.2,203.7 1109.5,208.5 1109,212 C1108.5,215.5 1104.7,218.8 1102,221 C1099.3,223.2 1097,226.5 1093,225 C1089,223.5 1081.3,215.8 1078,212 C1074.7,208.2 1073.8,205.7 1073,202 C1072.2,198.3 1070.2,192 1073,190Z" fill="#0A6AFF"/>
<path d="M943,243 C944.7,241.8 950.3,233.2 953,236 C955.7,238.8 958.2,254.8 959,260 C959.8,265.2 961,266.2 958,267 C955,267.8 943.8,265.3 941,265 L920,265 L920,243Z" fill="#0A6AFF"/>
<path d="M1159,373 C1160.2,369.2 1165.3,362.3 1169,360 C1172.7,357.7 1177.8,356.8 1181,359 C1184.2,361.2 1187.7,368.2 1188,373 C1188.3,377.8 1185.3,385.2 1183,388 C1180.7,390.8 1177.5,390.8 1174,390 C1170.5,389.2 1164.5,385.8 1162,383 C1159.5,380.2 1157.8,376.8 1159,373Z" fill="#0A6AFF"/>
<path d="M1232,762 C1232.2,758.7 1239.3,757.2 1243,757 C1246.7,756.8 1252.5,757.7 1254,761 C1255.5,764.3 1254,774.3 1252,777 C1250,779.7 1245.3,779.5 1242,777 C1238.7,774.5 1231.8,765.3 1232,762Z" fill="#0A6AFF"/>
<path d="M481,1104 C482,1100.7 486.2,1094.5 491,1092 C495.8,1089.5 504.5,1087 510,1089 C515.5,1091 522.7,1099.2 524,1104 C525.3,1108.8 522.2,1115.3 518,1118 C513.8,1120.7 504.5,1121 499,1120 C493.5,1119 488,1114.7 485,1112 C482,1109.3 480,1107.3 481,1104Z" fill="#0A6AFF"/>
<path d="M473,1216 C473,1212.7 477,1206.3 480,1204 C483,1201.7 487.2,1200.8 491,1202 C494.8,1203.2 500.8,1207.7 503,1211 C505.2,1214.3 505.2,1219.3 504,1222 C502.8,1224.7 500,1226.7 496,1227 C492,1227.3 483.8,1225.8 480,1224 C476.2,1222.2 473,1219.3 473,1216Z" fill="#0A6AFF"/>
<path d="M447,1171 C446.7,1169.7 449.8,1166.8 452,1167 C454.2,1167.2 459.7,1170.7 460,1172 C460.3,1173.3 456.2,1175.2 454,1175 C451.8,1174.8 447.3,1172.3 447,1171Z" fill="#0A6AFF"/>
<path d="M894,938 C894,929.7 896.5,918.3 900,911 C903.5,903.7 907.7,898.2 915,894 C922.3,889.8 935,886.3 944,886 C953,885.7 961.7,888.5 969,892 C976.3,895.5 983,901.2 988,907 C993,912.8 996.5,920.5 999,927 C1001.5,933.5 1003.3,938.7 1003,946 C1002.7,953.3 1000.5,964 997,971 C993.5,978 987.7,984.2 982,988 C976.3,991.8 970,993.7 963,994 C956,994.3 948,992.7 940,990 C932,987.3 921.7,982.8 915,978 C908.3,973.2 903.5,967.7 900,961 C896.5,954.3 894,946.3 894,938Z" fill="#0038FF"/>
<path d="M757,1074 C757,1068.3 760,1061 764,1057 C768,1053 775.3,1050 781,1050 C786.7,1050 794,1053 798,1057 C802,1061 805,1068.3 805,1074 C805,1079.7 802,1087 798,1091 C794,1095 786.7,1098 781,1098 C775.3,1098 768,1095 764,1091 C760,1087 757,1079.7 757,1074Z" fill="#0038FF"/>
<path d="M1034,561 C1036,556.7 1043.3,549.8 1049,547 C1054.7,544.2 1063.3,542 1068,544 C1072.7,546 1076.2,554.2 1077,559 C1077.8,563.8 1077,569.5 1073,573 C1069,576.5 1059,580 1053,580 C1047,580 1040.2,576.2 1037,573 C1033.8,569.8 1032,565.3 1034,561Z" fill="#0038FF"/>
<path d="M1470,607 C1467,611.8 1457.8,627.7 1452,636 C1446.2,644.3 1440.7,648.8 1435,657 C1429.3,665.2 1422.2,677.8 1418,685 C1413.8,692.2 1412.2,695 1410,700 C1407.8,705 1405,709.5 1405,715 C1405,720.5 1406.7,727 1410,733 C1413.3,739 1420.8,747.2 1425,751 C1429.2,754.8 1433.3,755.2 1435,756 L1530,756 L1530,607Z" fill="#0038FF"/>
<path d="M934,942 C935.7,937.7 941.8,931.7 946,929 C950.2,926.3 954.7,925.5 959,926 C963.3,926.5 968.8,928 972,932 C975.2,936 978,944.8 978,950 C978,955.2 975.2,959.8 972,963 C968.8,966.2 963.3,968.7 959,969 C954.7,969.3 949.8,967.3 946,965 C942.2,962.7 938,958.8 936,955 C934,951.2 932.3,946.3 934,942Z" fill="#0010FF"/>
<path d="M1504,636 C1498.8,636 1481.7,634.3 1473,636 C1464.3,637.7 1457.5,641.2 1452,646 C1446.5,650.8 1443.2,657.7 1440,665 C1436.8,672.3 1433.7,682.5 1433,690 C1432.3,697.5 1433.5,704.8 1436,710 C1438.5,715.2 1445.3,718 1448,721 C1450.7,724 1451.3,726.8 1452,728 L1530,728 L1530,636Z" fill="#0010FF"/>
<path d="M1460,670 C1461.7,669.2 1474.2,671.7 1475,673 C1475.8,674.3 1467.5,678.5 1465,678 C1462.5,677.5 1458.3,670.8 1460,670Z" fill="#0000FF"/>
<g fill="none" stroke="#000" stroke-width="1" stroke-opacity="0.85">
<path d="M169,1669 C171.3,1664.8 177.8,1654.2 183,1644 C188.2,1633.8 196.2,1620.5 200,1608 C203.8,1595.5 205,1580.5 206,1569 C207,1557.5 204.3,1548.8 206,1539 C207.7,1529.2 211,1519.3 216,1510 C221,1500.7 228.3,1490.5 236,1483 C243.7,1475.5 254.3,1468.5 262,1465 C269.7,1461.5 274.8,1460.5 282,1462 C289.2,1463.5 297.3,1467.2 305,1474 C312.7,1480.8 319.8,1491.7 328,1503 C336.2,1514.3 343.2,1527.2 354,1542 C364.8,1556.8 382,1578.8 393,1592 C404,1605.2 414.5,1612.8 420,1621 C425.5,1629.2 425.5,1631.7 426,1641 C426.5,1650.3 425.7,1666 423,1677 C420.3,1688 413.8,1698.2 410,1707 C406.2,1715.8 402,1723 400,1730 C398,1737 396.8,1741.5 398,1749 C399.2,1756.5 402.3,1766.2 407,1775 C411.7,1783.8 420.5,1794.2 426,1802 C431.5,1809.8 433.5,1814.5 440,1822 C446.5,1829.5 455.3,1836.8 465,1847 C474.7,1857.2 487,1870.3 498,1883 C509,1895.7 520,1914.7 531,1923 C542,1931.3 555.3,1932 564,1933 C572.7,1934 574.8,1932.8 583,1929 C591.2,1925.2 602,1914 613,1910 C624,1906 636.5,1904.5 649,1905 C661.5,1905.5 674.8,1909.5 688,1913 C701.2,1916.5 714.3,1923.3 728,1926 C741.7,1928.7 758,1930.2 770,1929 C782,1927.8 790.7,1925 800,1919 C809.3,1913 816.2,1901.7 826,1893 C835.8,1884.3 848,1872.8 859,1867 C870,1861.2 878.3,1861.3 892,1858 C905.7,1854.7 923,1850.3 941,1847 C959,1843.7 984.8,1842.8 1000,1838 C1015.2,1833.2 1021.2,1824 1032,1818 C1042.8,1812 1054,1806.3 1065,1802 C1076,1797.7 1088.7,1794 1098,1792 C1107.3,1790 1113.8,1787.8 1121,1790 C1128.2,1792.2 1136.8,1798.2 1141,1805 C1145.2,1811.8 1145.2,1821.2 1146,1831 C1146.8,1840.8 1144.7,1854.2 1146,1864 C1147.3,1873.8 1150,1880.7 1154,1890 C1158,1899.3 1162.2,1908.5 1170,1920 C1177.8,1931.5 1188.5,1948.2 1201,1959 C1213.5,1969.8 1230.3,1977 1245,1985 C1259.7,1993 1271.5,2000.3 1289,2007 C1306.5,2013.7 1329.2,2020.5 1350,2025 C1370.8,2029.5 1395.2,2031 1414,2034 C1432.8,2037 1447.7,2037.2 1463,2043 C1478.3,2048.8 1493.7,2059.5 1506,2069 C1518.3,2078.5 1528.8,2090.5 1537,2100 C1545.2,2109.5 1552,2121.7 1555,2126"/>
<path d="M987,1955 C987,1950 989.5,1943.7 993,1940 C996.5,1936.3 1003,1933 1008,1933 C1013,1933 1019.5,1936.3 1023,1940 C1026.5,1943.7 1029,1950 1029,1955 C1029,1960 1026.5,1966.3 1023,1970 C1019.5,1973.7 1013,1977 1008,1977 C1003,1977 996.5,1973.7 993,1970 C989.5,1966.3 987,1960 987,1955Z"/>
<path d="M582,1726 C582.5,1715 584,1698.5 591,1687 C598,1675.5 613,1661.3 624,1657 C635,1652.7 646,1657.2 657,1661 C668,1664.8 680.7,1670.2 690,1680 C699.3,1689.8 708.8,1707.8 713,1720 C717.2,1732.2 717.2,1742.2 715,1753 C712.8,1763.8 707.5,1776.7 700,1785 C692.5,1793.3 679.8,1799.7 670,1803 C660.2,1806.3 651.3,1809 641,1805 C630.7,1801 616.8,1787.7 608,1779 C599.2,1770.3 592.3,1761.8 588,1753 C583.7,1744.2 581.5,1737 582,1726Z"/>
<path d="M78,1525 C80.2,1519 85,1498.8 91,1489 C97,1479.2 101.8,1473.7 114,1466 C126.2,1458.3 147.5,1449 164,1443 C180.5,1437 196.7,1433.8 213,1430 C229.3,1426.2 248.3,1421 262,1420 C275.7,1419 284,1421.2 295,1424 C306,1426.8 317,1431.3 328,1437 C339,1442.7 350.2,1451.8 361,1458 C371.8,1464.2 379.3,1469 393,1474 C406.7,1479 429.3,1486 443,1488 C456.7,1490 464.2,1487.3 475,1486 C485.8,1484.7 497,1481.7 508,1480 C519,1478.3 530,1475.5 541,1476 C552,1476.5 564.2,1479.2 574,1483 C583.8,1486.8 573,1483.7 600,1499 C627,1514.3 711.2,1562.3 736,1575 C760.8,1587.7 744.7,1570.5 749,1575 C753.3,1579.5 757,1591.5 762,1602 C767,1612.5 773.5,1627.2 779,1638 C784.5,1648.8 789.7,1658.3 795,1667 C800.3,1675.7 802.8,1683.7 811,1690 C819.2,1696.3 833,1701.5 844,1705 C855,1708.5 866,1712 877,1711 C888,1710 901.8,1704.7 910,1699 C918.2,1693.3 922.5,1684.5 926,1677 C929.5,1669.5 925.5,1657.3 931,1654 C936.5,1650.7 946.2,1652.7 959,1657 C971.8,1661.3 993.7,1673.5 1008,1680 C1022.3,1686.5 1032.7,1692.3 1045,1696 C1057.3,1699.7 1070.5,1702.5 1082,1702 C1093.5,1701.5 1103.2,1698.3 1114,1693 C1124.8,1687.7 1136,1678.7 1147,1670 C1158,1661.3 1172.3,1650.2 1180,1641 C1187.7,1631.8 1190.3,1623.8 1193,1615 C1195.7,1606.2 1195.5,1596.8 1196,1588 C1196.5,1579.2 1193.7,1569 1196,1562 C1198.3,1555 1204.5,1549.5 1210,1546 C1215.5,1542.5 1221.3,1540 1229,1541 C1236.7,1542 1250,1546.3 1256,1552 C1262,1557.7 1264.5,1567.8 1265,1575 C1265.5,1582.2 1262.8,1589 1259,1595 C1255.2,1601 1247,1605.5 1242,1611 C1237,1616.5 1231.2,1622 1229,1628 C1226.8,1634 1226.8,1638.8 1229,1647 C1231.2,1655.2 1236.5,1666.5 1242,1677 C1247.5,1687.5 1255.3,1699.7 1262,1710 C1268.7,1720.3 1275.3,1729.7 1282,1739 C1288.7,1748.3 1294.3,1757.7 1302,1766 C1309.7,1774.3 1318.2,1783.7 1328,1789 C1337.8,1794.3 1350.2,1795 1361,1798 C1371.8,1801 1384.8,1803.7 1393,1807 C1401.2,1810.3 1406.2,1815 1410,1818 C1413.8,1821 1415,1823.8 1416,1825"/>
<path d="M1591,1196 C1591,1191.7 1594.2,1185.2 1598,1183 C1601.8,1180.8 1610.2,1180.8 1614,1183 C1617.8,1185.2 1621,1191.7 1621,1196 C1621,1200.3 1617.8,1206.8 1614,1209 C1610.2,1211.2 1601.8,1211.2 1598,1209 C1594.2,1206.8 1591,1200.3 1591,1196Z"/>
<path d="M19,1396 C26.7,1394 51.8,1387.7 65,1384 C78.2,1380.3 85.3,1377 98,1374 C110.7,1371 124.7,1366.7 141,1366 C157.3,1365.3 178.5,1368.7 196,1370 C213.5,1371.3 229.5,1370.5 246,1374 C262.5,1377.5 278.7,1384.8 295,1391 C311.3,1397.2 327.7,1405.5 344,1411 C360.3,1416.5 378.2,1421.3 393,1424 C407.8,1426.7 420.3,1427.7 433,1427 C445.7,1426.3 456.5,1425 469,1420 C481.5,1415 496,1404 508,1397 C520,1390 532.7,1382.3 541,1378 C549.3,1373.7 551.2,1371 558,1371 C564.8,1371 572.7,1373.5 582,1378 C591.3,1382.5 604.2,1390.3 614,1398 C623.8,1405.7 632.7,1414.2 641,1424 C649.3,1433.8 657,1448.7 664,1457 C671,1465.3 676.5,1470.2 683,1474 C689.5,1477.8 696.3,1480.7 703,1480 C709.7,1479.3 718.3,1475.5 723,1470 C727.7,1464.5 730.5,1454.7 731,1447 C731.5,1439.3 729.3,1433.8 726,1424 C722.7,1414.2 711.5,1400.5 711,1388 C710.5,1375.5 715.5,1361 723,1349 C730.5,1337 745.2,1324 756,1316 C766.8,1308 776,1302.7 788,1301 C800,1299.3 815.8,1302.3 828,1306 C840.2,1309.7 850.2,1315.3 861,1323 C871.8,1330.7 879.3,1337.8 893,1352 C906.7,1366.2 926.5,1388.3 943,1408 C959.5,1427.7 981.2,1458.3 992,1470 C1002.8,1481.7 1001.3,1477.3 1008,1478 C1014.7,1478.7 1022.5,1478.5 1032,1474 C1041.5,1469.5 1054,1459.8 1065,1451 C1076,1442.2 1088.2,1432 1098,1421 C1107.8,1410 1115.8,1397 1124,1385 C1132.2,1373 1139.3,1357.8 1147,1349 C1154.7,1340.2 1160.7,1333.7 1170,1332 C1179.3,1330.3 1190.3,1336 1203,1339 C1215.7,1342 1233.3,1348.3 1246,1350 C1258.7,1351.7 1269.2,1351.3 1279,1349 C1288.8,1346.7 1297,1343.2 1305,1336 C1313,1328.8 1321.8,1317.5 1327,1306 C1332.2,1294.5 1336,1281.7 1336,1267 C1336,1252.3 1331.5,1230.5 1327,1218 C1322.5,1205.5 1309.7,1197.8 1309,1192 C1308.3,1186.2 1312,1186.7 1323,1183 C1334,1179.3 1355.3,1174.3 1375,1170 C1394.7,1165.7 1419.2,1163.5 1441,1157 C1462.8,1150.5 1484.2,1139 1506,1131 C1527.8,1123 1550.8,1115.7 1572,1109 C1593.2,1102.3 1618.3,1095.3 1633,1091 C1647.7,1086.7 1648.3,1085.8 1660,1083 C1671.7,1080.2 1688.5,1076.2 1703,1074 C1717.5,1071.8 1730.2,1070.7 1747,1070 C1763.8,1069.3 1788,1066.5 1804,1070 C1820,1073.5 1832,1080.8 1843,1091 C1854,1101.2 1863.3,1114.8 1870,1131 C1876.7,1147.2 1880.5,1170.5 1883,1188 C1885.5,1205.5 1884.7,1228 1885,1236"/>
<path d="M838,1595 C839.2,1583.5 844.8,1568 854,1559 C863.2,1550 881.5,1542.2 893,1541 C904.5,1539.8 917.5,1545.2 923,1552 C928.5,1558.8 927.7,1571.5 926,1582 C924.3,1592.5 918.5,1604.7 913,1615 C907.5,1625.3 899,1638.8 893,1644 C887,1649.2 884.7,1648.7 877,1646 C869.3,1643.3 853.5,1636.5 847,1628 C840.5,1619.5 836.8,1606.5 838,1595Z"/>
<path d="M1398,1623 C1394.5,1624.8 1383.8,1628.3 1377,1634 C1370.2,1639.7 1362.5,1648.7 1357,1657 C1351.5,1665.3 1346.7,1675.2 1344,1684 C1341.3,1692.8 1339.8,1701.3 1341,1710 C1342.2,1718.7 1345,1728.8 1351,1736 C1357,1743.2 1369.2,1749.7 1377,1753 C1384.8,1756.3 1394.5,1755.5 1398,1756"/>
<path d="M0,1263 C8.7,1263 35.7,1262.5 52,1263 C68.3,1263.5 82.2,1263.8 98,1266 C113.8,1268.2 133.3,1271.7 147,1276 C160.7,1280.3 169,1286 180,1292 C191,1298 199.3,1305.3 213,1312 C226.7,1318.7 242.8,1324.8 262,1332 C281.2,1339.2 308.8,1348 328,1355 C347.2,1362 360.7,1369.2 377,1374 C393.3,1378.8 412.3,1382.8 426,1384 C439.7,1385.2 448,1383.7 459,1381 C470,1378.3 481,1374 492,1368 C503,1362 514,1350.5 525,1345 C536,1339.5 545.5,1335.5 558,1335 C570.5,1334.5 591.2,1340.3 600,1342 C608.8,1343.7 601.8,1348.8 611,1345 C620.2,1341.2 640.5,1331.3 655,1319 C669.5,1306.7 680.5,1288.5 698,1271 C715.5,1253.5 738,1221.3 760,1214 C782,1206.7 807.5,1221.2 830,1227 C852.5,1232.8 873.2,1240.3 895,1249 C916.8,1257.7 942.7,1275.3 961,1279 C979.3,1282.7 990.3,1276.8 1005,1271 C1019.7,1265.2 1036,1251.2 1049,1244 C1062,1236.8 1072,1235 1083,1228 C1094,1221 1107,1212.8 1115,1202 C1123,1191.2 1125.5,1172.8 1131,1163 C1136.5,1153.2 1141.5,1147 1148,1143 C1154.5,1139 1157.7,1140.8 1170,1139 C1182.3,1137.2 1206.2,1137.2 1222,1132 C1237.8,1126.8 1250.7,1116.7 1265,1108 C1279.3,1099.3 1293.7,1090.3 1308,1080 C1322.3,1069.7 1335.3,1057.3 1351,1046 C1366.7,1034.7 1389.3,1018.2 1402,1012 C1414.7,1005.8 1416.7,1008.2 1427,1009 C1437.3,1009.8 1452.3,1013.5 1464,1017 C1475.7,1020.5 1482.7,1027.2 1497,1030 C1511.3,1032.8 1533.8,1035.5 1550,1034 C1566.2,1032.5 1580.2,1024.7 1594,1021 C1607.8,1017.3 1626.5,1013.5 1633,1012"/>
<path d="M65,1148 C71.7,1153.5 91.3,1171.7 105,1181 C118.7,1190.3 131.8,1195.3 147,1204 C162.2,1212.7 179.5,1221.5 196,1233 C212.5,1244.5 229.5,1260.8 246,1273 C262.5,1285.2 278.7,1296.2 295,1306 C311.3,1315.8 327.7,1325.5 344,1332 C360.3,1338.5 379.3,1341.7 393,1345 C406.7,1348.3 415,1351.5 426,1352 C437,1352.5 448.3,1350.7 459,1348 C469.7,1345.3 479.8,1341.3 490,1336 C500.2,1330.7 510.8,1323.3 520,1316 C529.2,1308.7 536.7,1299.3 545,1292 C553.3,1284.7 560.8,1277 570,1272 C579.2,1267 588.3,1266 600,1262 C611.7,1258 625.8,1254.7 640,1248 C654.2,1241.3 670.3,1230 685,1222 C699.7,1214 713.5,1207.2 728,1200 C742.5,1192.8 759.2,1183.7 772,1179 C784.8,1174.3 795.2,1173.2 805,1172 C814.8,1170.8 822.3,1173.5 831,1172 C839.7,1170.5 847,1166.7 857,1163 C867,1159.3 881.5,1155.3 891,1150 C900.5,1144.7 906.8,1135.5 914,1131 C921.2,1126.5 927.5,1124 934,1123 C940.5,1122 946.7,1124 953,1125 C959.3,1126 965.7,1127.3 972,1129 C978.3,1130.7 984.7,1134 991,1135 C997.3,1136 1002,1136.3 1010,1135 C1018,1133.7 1030.2,1130.3 1039,1127 C1047.8,1123.7 1055.2,1120 1063,1115 C1070.8,1110 1078.3,1104.5 1086,1097 C1093.7,1089.5 1101.3,1076.5 1109,1070 C1116.7,1063.5 1124.3,1060.3 1132,1058 C1139.7,1055.7 1147,1055 1155,1056 C1163,1057 1170.8,1060.8 1180,1064 C1189.2,1067.2 1200.5,1074.5 1210,1075 C1219.5,1075.5 1227,1071 1237,1067 C1247,1063 1260.7,1056.3 1270,1051 C1279.3,1045.7 1283.5,1043 1293,1035 C1302.5,1027 1315.2,1011.8 1327,1003 C1338.8,994.2 1351.5,989.3 1364,982 C1376.5,974.7 1391.5,963.7 1402,959 C1412.5,954.3 1414.5,955 1427,954 C1439.5,953 1457,953.2 1477,953 C1497,952.8 1535.3,953 1547,953"/>
<path d="M272,1227 C275.2,1229.7 283.3,1235.7 291,1243 C298.7,1250.3 306.7,1262.3 318,1271 C329.3,1279.7 345.3,1288.2 359,1295 C372.7,1301.8 386.3,1307.3 400,1312 C413.7,1316.7 430.5,1321.7 441,1323 C451.5,1324.3 457.5,1322.8 463,1320 C468.5,1317.2 471.7,1312 474,1306 C476.3,1300 475.7,1288.5 477,1284 C478.3,1279.5 474.3,1282.5 482,1279 C489.7,1275.5 507,1270.3 523,1263 C539,1255.7 559.7,1244.2 578,1235 C596.3,1225.8 614.7,1216.2 633,1208 C651.3,1199.8 674.8,1192.2 688,1186 C701.2,1179.8 698.3,1177.2 712,1171 C725.7,1164.8 751.7,1154.3 770,1149 C788.3,1143.7 808.2,1142 822,1139 C835.8,1136 844.7,1136.2 853,1131 C861.3,1125.8 866.5,1116.7 872,1108 C877.5,1099.3 881.5,1087 886,1079 C890.5,1071 894.3,1064.3 899,1060 C903.7,1055.7 908.2,1053.3 914,1053 C919.8,1052.7 927.5,1055.2 934,1058 C940.5,1060.8 945.2,1066.2 953,1070 C960.8,1073.8 971.5,1078.8 981,1081 C990.5,1083.2 1000.3,1084.2 1010,1083 C1019.7,1081.8 1029.3,1079 1039,1074 C1048.7,1069 1058.2,1061 1068,1053 C1077.8,1045 1086.5,1033.7 1098,1026 C1109.5,1018.3 1124.2,1011.8 1137,1007 C1149.8,1002.2 1162.3,999.5 1175,997 C1187.7,994.5 1200.3,995.3 1213,992 C1225.7,988.7 1238.5,983.7 1251,977 C1263.5,970.3 1275.5,960.8 1288,952 C1300.5,943.2 1313.3,932.8 1326,924 C1338.7,915.2 1353.5,904.5 1364,899 C1374.5,893.5 1378.5,891.8 1389,891 C1399.5,890.2 1412.3,893 1427,894 C1441.7,895 1462,896.5 1477,897 C1492,897.5 1510.3,897 1517,897"/>
<path d="M967,342 C969.5,339.2 977.2,330.3 982,325 C986.8,319.7 992.5,316 996,310 C999.5,304 1001.3,296.5 1003,289 C1004.7,281.5 1003.2,271.5 1006,265 C1008.8,258.5 1012.8,252.8 1020,250 C1027.2,247.2 1039,248 1049,248 C1059,248 1068.7,248.3 1080,250 C1091.3,251.7 1107.7,254.3 1117,258 C1126.3,261.7 1130.5,264.8 1136,272 C1141.5,279.2 1146,293 1150,301 C1154,309 1159.2,313.2 1160,320 C1160.8,326.8 1157.8,333.7 1155,342 C1152.2,350.3 1145.5,362 1143,370 C1140.5,378 1138.5,383.8 1140,390 C1141.5,396.2 1146,402 1152,407 C1158,412 1168,418.8 1176,420 C1184,421.2 1193.2,418.2 1200,414 C1206.8,409.8 1213,403 1217,395 C1221,387 1223.5,374.8 1224,366 C1224.5,357.2 1221.5,350.8 1220,342 C1218.5,333.2 1215.3,322.7 1215,313 C1214.7,303.3 1215.2,292 1218,284 C1220.8,276 1224.8,270.2 1232,265 C1239.2,259.8 1250.2,257 1261,253 C1271.8,249 1286.7,245.7 1297,241 C1307.3,236.3 1314.8,231.5 1323,225 C1331.2,218.5 1338.3,211.2 1346,202 C1353.7,192.8 1362.2,182.2 1369,170 C1375.8,157.8 1382,140.8 1387,129 C1392,117.2 1394.3,107.8 1399,99 C1403.7,90.2 1408.5,83.7 1415,76 C1421.5,68.3 1430.3,59.2 1438,53 C1445.7,46.8 1453.3,42.2 1461,39 C1468.7,35.8 1476.3,34 1484,34 C1491.7,34 1499.3,35.8 1507,39 C1514.7,42.2 1522.3,48 1530,53 C1537.7,58 1545.3,64.5 1553,69 C1560.7,73.5 1568.8,76.2 1576,80 C1583.2,83.8 1592.2,87 1596,92 C1599.8,97 1600.5,102.3 1599,110 C1597.5,117.7 1592.8,128.8 1587,138 C1581.2,147.2 1571.7,157.3 1564,165 C1556.3,172.7 1548.7,177 1541,184 C1533.3,191 1524.2,199.3 1518,207 C1511.8,214.7 1507,222.3 1504,230 C1501,237.7 1500.3,244.7 1500,253 C1499.7,261.3 1501.7,275.5 1502,280"/>
<path d="M952,392 C953.2,394.8 955,403.3 959,409 C963,414.7 970,421.5 976,426 C982,430.5 988.5,433.3 995,436 C1001.5,438.7 1002,431.7 1015,442 C1028,452.3 1055,481 1073,498 C1091,515 1111.5,533.5 1123,544 C1134.5,554.5 1136.8,554.2 1142,561 C1147.2,567.8 1152,577 1154,585 C1156,593 1155.5,601.3 1154,609 C1152.5,616.7 1150.5,624.5 1145,631 C1139.5,637.5 1131,642 1121,648 C1111,654 1097.2,659.8 1085,667 C1072.8,674.2 1056.5,685.5 1048,691 C1039.5,696.5 1039,696.2 1034,700 C1029,703.8 1022.5,707.5 1018,714 C1013.5,720.5 1009.5,729.7 1007,739 C1004.5,748.3 1004,760.2 1003,770 C1002,779.8 1001.2,788.7 1001,798 C1000.8,807.3 1000.7,818.2 1002,826 C1003.3,833.8 1005.3,838.8 1009,845 C1012.7,851.2 1019.3,856.8 1024,863 C1028.7,869.2 1033,875.8 1037,882 C1041,888.2 1044.7,892.3 1048,900 C1051.3,907.7 1054.5,918.7 1057,928 C1059.5,937.3 1061.8,946.7 1063,956 C1064.2,965.3 1065.3,975.2 1064,984 C1062.7,992.8 1059.2,1001.3 1055,1009 C1050.8,1016.7 1046.3,1024 1039,1030 C1031.7,1036 1019,1041.8 1011,1045 C1003,1048.2 997.5,1048.7 991,1049 C984.5,1049.3 979.8,1048.3 972,1047 C964.2,1045.7 953.5,1043.5 944,1041 C934.5,1038.5 923,1033.5 915,1032 C907,1030.5 902.3,1030.5 896,1032 C889.7,1033.5 882.8,1036.2 877,1041 C871.2,1045.8 865.8,1053 861,1061 C856.2,1069 853,1079.8 848,1089 C843,1098.2 841,1110.5 831,1116 C821,1121.5 804,1119.8 788,1122 C772,1124.2 752,1125.8 735,1129 C718,1132.2 699.2,1137.3 686,1141 C672.8,1144.7 665.3,1148.2 656,1151 C646.7,1153.8 640.2,1155.8 630,1158 C619.8,1160.2 605.8,1161.2 595,1164 C584.2,1166.8 573.7,1171.3 565,1175 C556.3,1178.7 548.2,1178.7 543,1186 C537.8,1193.3 541.8,1209 534,1219 C526.2,1229 509.7,1238.7 496,1246 C482.3,1253.3 460.2,1258.8 452,1263 C443.8,1267.2 449.7,1268.8 447,1271 C444.3,1273.2 443.8,1277 436,1276 C428.2,1275 411.8,1270 400,1265 C388.2,1260 375.5,1253.7 365,1246 C354.5,1238.3 344.8,1228.5 337,1219 C329.2,1209.5 321.2,1194 318,1189"/>
<path d="M1431,561 C1420.3,574.5 1382.7,624.3 1367,642 C1351.3,659.7 1347.2,660.2 1337,667 C1326.8,673.8 1316.3,678.2 1306,683 C1295.7,687.8 1285.3,691 1275,696 C1264.7,701 1252.7,706.8 1244,713 C1235.3,719.2 1228.8,725.2 1223,733 C1217.2,740.8 1214,752.8 1209,760 C1204,767.2 1198.2,765.8 1193,776 C1187.8,786.2 1182.2,808.5 1178,821 C1173.8,833.5 1169.8,841.8 1168,851 C1166.2,860.2 1165.8,868.3 1167,876 C1168.2,883.7 1169.3,891 1175,897 C1180.7,903 1192.5,909.5 1201,912 C1209.5,914.5 1215.5,914.5 1226,912 C1236.5,909.5 1253.5,903.8 1264,897 C1274.5,890.2 1280.7,880.7 1289,871 C1297.3,861.3 1305.7,848.2 1314,839 C1322.3,829.8 1330.7,821.2 1339,816 C1347.3,810.8 1355.7,808 1364,808 C1372.3,808 1380.7,812.2 1389,816 C1397.3,819.8 1405.5,826.8 1414,831 C1422.5,835.2 1433.2,838.7 1440,841 C1446.8,843.3 1452.5,844.3 1455,845"/>
<path d="M1276,489 C1277.2,485.3 1283.2,478 1287,476 C1290.8,474 1295.7,474.8 1299,477 C1302.3,479.2 1306.7,484.7 1307,489 C1307.3,493.3 1304,500.2 1301,503 C1298,505.8 1292.5,506.8 1289,506 C1285.5,505.2 1282.2,500.8 1280,498 C1277.8,495.2 1274.8,492.7 1276,489Z"/>
<path d="M477,1049 C480.2,1044 488.3,1030.2 496,1027 C503.7,1023.8 513.8,1026.3 523,1030 C532.2,1033.7 544.5,1044 551,1049 C557.5,1054 561.2,1057.2 562,1060 C562.8,1062.8 562.5,1065.5 556,1066 C549.5,1066.5 534.3,1062.2 523,1063 C511.7,1063.8 495.7,1072 488,1071 C480.3,1070 478.8,1060.7 477,1057 C475.2,1053.3 473.8,1054 477,1049Z"/>
<path d="M487,1161 C487.8,1157.3 492.2,1152 496,1150 C499.8,1148 505.5,1147.2 510,1149 C514.5,1150.8 520.8,1156.7 523,1161 C525.2,1165.3 525.7,1172.2 523,1175 C520.3,1177.8 512.3,1178.5 507,1178 C501.7,1177.5 494.3,1174.8 491,1172 C487.7,1169.2 486.2,1164.7 487,1161Z"/>
<path d="M860,724 C863.2,723.7 872.8,721.5 879,722 C885.2,722.5 891.2,724 897,727 C902.8,730 909.8,734.7 914,740 C918.2,745.3 921.3,751.8 922,759 C922.7,766.2 921.2,776.8 918,783 C914.8,789.2 909.5,792.8 903,796 C896.5,799.2 886.2,801 879,802 C871.8,803 863.2,802 860,802"/>
<path d="M1162,173 C1162.8,165.3 1167.5,155.5 1172,154 C1176.5,152.5 1184.7,159.2 1189,164 C1193.3,168.8 1196.8,177 1198,183 C1199.2,189 1198.7,195.7 1196,200 C1193.3,204.3 1186.8,209 1182,209 C1177.2,209 1170.3,206 1167,200 C1163.7,194 1161.2,180.7 1162,173Z"/>
<path d="M986,405 C985.3,400.2 987,391.5 991,385 C995,378.5 1004,372.8 1010,366 C1016,359.2 1022.8,348.8 1027,344 C1031.2,339.2 1032.2,345 1035,337 C1037.8,329 1039.2,305.7 1044,296 C1048.8,286.3 1056.7,282.2 1064,279 C1071.3,275.8 1080,275.8 1088,277 C1096,278.2 1105.7,281.2 1112,286 C1118.3,290.8 1123.2,299.5 1126,306 C1128.8,312.5 1129.8,317.8 1129,325 C1128.2,332.2 1123,341.5 1121,349 C1119,356.5 1117.5,360.3 1117,370 C1116.5,379.7 1115,395.7 1118,407 C1121,418.3 1128.2,429.2 1135,438 C1141.8,446.8 1152.2,452.3 1159,460 C1165.8,467.7 1173.5,476.3 1176,484 C1178.5,491.7 1177.2,500.3 1174,506 C1170.8,511.7 1163.8,515.7 1157,518 C1150.2,520.3 1139.5,520.8 1133,520 C1126.5,519.2 1124.8,517.3 1118,513 C1111.2,508.7 1101.2,501.2 1092,494 C1082.8,486.8 1072.7,477.3 1063,470 C1053.3,462.7 1042.7,459.2 1034,450 C1025.3,440.8 1017.5,421 1011,415 C1004.5,409 999.2,415.7 995,414 C990.8,412.3 986.7,409.8 986,405Z"/>
<path d="M1018,807 C1018.3,802.5 1020.8,796.3 1024,792 C1027.2,787.7 1026,790.5 1037,781 C1048,771.5 1072.3,750.5 1090,735 C1107.7,719.5 1130.8,695.8 1143,688 C1155.2,680.2 1155.8,686.8 1163,688 C1170.2,689.2 1180.5,690.8 1186,695 C1191.5,699.2 1195.2,704.5 1196,713 C1196.8,721.5 1195.2,736 1191,746 C1186.8,756 1179.8,764.3 1171,773 C1162.2,781.7 1149.8,789.2 1138,798 C1126.2,806.8 1112.2,819.5 1100,826 C1087.8,832.5 1075.5,836 1065,837 C1054.5,838 1044.2,835 1037,832 C1029.8,829 1025.2,823.2 1022,819 C1018.8,814.8 1017.7,811.5 1018,807Z"/>
<path d="M1461,123 C1461,117 1462,111.2 1465,106 C1468,100.8 1474,95 1479,92 C1484,89 1489.2,87.7 1495,88 C1500.8,88.3 1508.8,90.3 1514,94 C1519.2,97.7 1523.7,104.2 1526,110 C1528.3,115.8 1529.3,122.8 1528,129 C1526.7,135.2 1523,142.3 1518,147 C1513,151.7 1504.2,155.5 1498,157 C1491.8,158.5 1486.5,158.5 1481,156 C1475.5,153.5 1468.3,147.5 1465,142 C1461.7,136.5 1461,129 1461,123Z"/>
<path d="M1321,355 C1322.5,347.5 1328.3,339.3 1334,333 C1339.7,326.7 1350,325.8 1355,317 C1360,308.2 1359.8,290.7 1364,280 C1368.2,269.3 1373.5,260.7 1380,253 C1386.5,245.3 1396,237.8 1403,234 C1410,230.2 1415.5,228.8 1422,230 C1428.5,231.2 1437,233.3 1442,241 C1447,248.7 1450.3,262.5 1452,276 C1453.7,289.5 1453.5,308.3 1452,322 C1450.5,335.7 1446.8,346.7 1443,358 C1439.2,369.3 1435.5,381 1429,390 C1422.5,399 1412.8,407.3 1404,412 C1395.2,416.7 1385.7,419.7 1376,418 C1366.3,416.3 1354.5,408.7 1346,402 C1337.5,395.3 1329.2,385.8 1325,378 C1320.8,370.2 1319.5,362.5 1321,355Z"/>
<path d="M1247,301 C1248.8,297.3 1254.8,286.5 1259,286 C1263.2,285.5 1270,294 1272,298 C1274,302 1273.2,307 1271,310 C1268.8,313 1262.8,316.3 1259,316 C1255.2,315.7 1250,310.5 1248,308 C1246,305.5 1245.2,304.7 1247,301Z"/>
<path d="M1288,615 C1289.2,611.3 1295.2,605 1299,604 C1302.8,603 1308.8,606.2 1311,609 C1313.2,611.8 1313.2,617.5 1312,621 C1310.8,624.5 1307.3,629.2 1304,630 C1300.7,630.8 1294.7,628.5 1292,626 C1289.3,623.5 1286.8,618.7 1288,615Z"/>
<path d="M1071,313 C1072.2,310.3 1075.2,304.2 1078,302 C1080.8,299.8 1085,299 1088,300 C1091,301 1094.7,304.7 1096,308 C1097.3,311.3 1097.3,316.2 1096,320 C1094.7,323.8 1091,329.3 1088,331 C1085,332.7 1080.8,332.2 1078,330 C1075.2,327.8 1072.2,320.8 1071,318 C1069.8,315.2 1069.8,315.7 1071,313Z"/>
<path d="M1065,408 C1065,407 1067,405 1068,405 C1069,405 1071,407 1071,408 C1071,409 1069,411 1068,411 C1067,411 1065,409 1065,408Z"/>
<path d="M1155,729 C1155,726.7 1160.2,722 1163,722 C1165.8,722 1172,726.7 1172,729 C1172,731.3 1165.8,736 1163,736 C1160.2,736 1155,731.3 1155,729Z"/>
<path d="M703,1048 C715,1037.7 750.7,1015.5 770,1002 C789.3,988.5 808.5,977.2 819,967 C829.5,956.8 828,951.2 833,941 C838,930.8 843.5,916.2 849,906 C854.5,895.8 860.8,886.2 866,880 C871.2,873.8 874.3,874 880,869 C885.7,864 894,854.7 900,850 C906,845.3 910.8,845 916,841 C921.2,837 927,832.2 931,826 C935,819.8 937.3,810.8 940,804 C942.7,797.2 943.7,790.3 947,785 C950.3,779.7 955.8,774.5 960,772 C964.2,769.5 968.5,769 972,770 C975.5,771 979.2,774 981,778 C982.8,782 983.3,788.5 983,794 C982.7,799.5 980.5,805.7 979,811 C977.5,816.3 975.2,820.3 974,826 C972.8,831.7 971.8,838.8 972,845 C972.2,851.2 972.5,856.8 975,863 C977.5,869.2 982.2,876.2 987,882 C991.8,887.8 999.2,892.2 1004,898 C1008.8,903.8 1012.2,910 1016,917 C1019.8,924 1024.8,932.8 1027,940 C1029.2,947.2 1028.8,954.2 1029,960 C1029.2,965.8 1029.5,969 1028,975 C1026.5,981 1024.5,989.3 1020,996 C1015.5,1002.7 1007.3,1010.7 1001,1015 C994.7,1019.3 990,1021.7 982,1022 C974,1022.3 962.5,1019.2 953,1017 C943.5,1014.8 933,1011.3 925,1009 C917,1006.7 912.5,1004.3 905,1003 C897.5,1001.7 887.3,1000.8 880,1001 C872.7,1001.2 866.5,1001.3 861,1004 C855.5,1006.7 850.8,1011.3 847,1017 C843.2,1022.7 840.7,1028.7 838,1038 C835.3,1047.3 834.2,1063.5 831,1073 C827.8,1082.5 823.3,1089.2 819,1095 C814.7,1100.8 810.2,1104.7 805,1108 C799.8,1111.3 795.3,1113.7 788,1115 C780.7,1116.3 769.8,1117 761,1116 C752.2,1115 742.8,1112.2 735,1109 C727.2,1105.8 719.5,1101.7 714,1097 C708.5,1092.3 704.7,1086.5 702,1081 C699.3,1075.5 697.8,1069.5 698,1064 C698.2,1058.5 691,1058.3 703,1048Z"/>
<path d="M514,964 C517.3,967.7 525.5,977.8 534,986 C542.5,994.2 556.3,1007.8 565,1013 C573.7,1018.2 578.8,1020 586,1017 C593.2,1014 602.8,1004.5 608,995 C613.2,985.5 616.2,971.7 617,960 C617.8,948.3 615.2,933.3 613,925 C610.8,916.7 605.5,912.5 604,910"/>
<path d="M425,1192 C428.7,1194.7 439.7,1209 447,1208 C454.3,1207 464.5,1194.2 469,1186 C473.5,1177.8 474.5,1168.2 474,1159 C473.5,1149.8 468.7,1137.5 466,1131 C463.3,1124.5 462,1123.7 458,1120 C454,1116.3 444.7,1110.8 442,1109"/>
<path d="M967,454 C971.8,453.8 988.8,452 996,453 C1003.2,454 1006,455.2 1010,460 C1014,464.8 1015.5,474.8 1020,482 C1024.5,489.2 1029,496.2 1037,503 C1045,509.8 1058.8,517 1068,523 C1077.2,529 1086.5,532.7 1092,539 C1097.5,545.3 1099,553.3 1101,561 C1103,568.7 1105.5,577 1104,585 C1102.5,593 1097.2,603 1092,609 C1086.8,615 1080.3,617.3 1073,621 C1065.7,624.7 1052.5,629 1048,631 C1043.5,633 1046.3,632.7 1046,633"/>
<path d="M1460,573 C1454.5,580.7 1437,606.2 1427,619 C1417,631.8 1408,640.3 1400,650 C1392,659.7 1385,667.8 1379,677 C1373,686.2 1367.3,696.8 1364,705 C1360.7,713.2 1358.5,718.3 1359,726 C1359.5,733.7 1362,743.5 1367,751 C1372,758.5 1380.2,764.8 1389,771 C1397.8,777.2 1410,783 1420,788 C1430,793 1444.2,798.8 1449,801"/>
<path d="M1541,248 C1541.5,244.2 1540.8,231.5 1544,225 C1547.2,218.5 1551.7,214 1560,209 C1568.3,204 1581.5,200.7 1594,195 C1606.5,189.3 1625.8,181.5 1635,175 C1644.2,168.5 1645.2,163 1649,156 C1652.8,149 1654.2,140.7 1658,133 C1661.8,125.3 1668.5,114.5 1672,110 C1675.5,105.5 1677.8,106.7 1679,106"/>
<path d="M1220,200 C1221.5,193.5 1227.2,183.8 1232,173 C1236.8,162.2 1243.3,146.5 1249,135 C1254.7,123.5 1260,110.5 1266,104 C1272,97.5 1278.7,95.7 1285,96 C1291.3,96.3 1299.5,99.5 1304,106 C1308.5,112.5 1312,126.5 1312,135 C1312,143.5 1308.5,149 1304,157 C1299.5,165 1292.2,174.7 1285,183 C1277.8,191.3 1269,201 1261,207 C1253,213 1243.3,218.2 1237,219 C1230.7,219.8 1225.8,215.2 1223,212 C1220.2,208.8 1218.5,206.5 1220,200Z"/>
<path d="M1073,190 C1075.8,188 1084.7,188.3 1090,190 C1095.3,191.7 1101.8,196.3 1105,200 C1108.2,203.7 1109.5,208.5 1109,212 C1108.5,215.5 1104.7,218.8 1102,221 C1099.3,223.2 1097,226.5 1093,225 C1089,223.5 1081.3,215.8 1078,212 C1074.7,208.2 1073.8,205.7 1073,202 C1072.2,198.3 1070.2,192 1073,190Z"/>
<path d="M943,243 C944.7,241.8 950.3,233.2 953,236 C955.7,238.8 958.2,254.8 959,260 C959.8,265.2 961,266.2 958,267 C955,267.8 943.8,265.3 941,265"/>
<path d="M1159,373 C1160.2,369.2 1165.3,362.3 1169,360 C1172.7,357.7 1177.8,356.8 1181,359 C1184.2,361.2 1187.7,368.2 1188,373 C1188.3,377.8 1185.3,385.2 1183,388 C1180.7,390.8 1177.5,390.8 1174,390 C1170.5,389.2 1164.5,385.8 1162,383 C1159.5,380.2 1157.8,376.8 1159,373Z"/>
<path d="M1232,762 C1232.2,758.7 1239.3,757.2 1243,757 C1246.7,756.8 1252.5,757.7 1254,761 C1255.5,764.3 1254,774.3 1252,777 C1250,779.7 1245.3,779.5 1242,777 C1238.7,774.5 1231.8,765.3 1232,762Z"/>
<path d="M481,1104 C482,1100.7 486.2,1094.5 491,1092 C495.8,1089.5 504.5,1087 510,1089 C515.5,1091 522.7,1099.2 524,1104 C525.3,1108.8 522.2,1115.3 518,1118 C513.8,1120.7 504.5,1121 499,1120 C493.5,1119 488,1114.7 485,1112 C482,1109.3 480,1107.3 481,1104Z"/>
<path d="M473,1216 C473,1212.7 477,1206.3 480,1204 C483,1201.7 487.2,1200.8 491,1202 C494.8,1203.2 500.8,1207.7 503,1211 C505.2,1214.3 505.2,1219.3 504,1222 C502.8,1224.7 500,1226.7 496,1227 C492,1227.3 483.8,1225.8 480,1224 C476.2,1222.2 473,1219.3 473,1216Z"/>
<path d="M447,1171 C446.7,1169.7 449.8,1166.8 452,1167 C454.2,1167.2 459.7,1170.7 460,1172 C460.3,1173.3 456.2,1175.2 454,1175 C451.8,1174.8 447.3,1172.3 447,1171Z"/>
<path d="M894,938 C894,929.7 896.5,918.3 900,911 C903.5,903.7 907.7,898.2 915,894 C922.3,889.8 935,886.3 944,886 C953,885.7 961.7,888.5 969,892 C976.3,895.5 983,901.2 988,907 C993,912.8 996.5,920.5 999,927 C1001.5,933.5 1003.3,938.7 1003,946 C1002.7,953.3 1000.5,964 997,971 C993.5,978 987.7,984.2 982,988 C976.3,991.8 970,993.7 963,994 C956,994.3 948,992.7 940,990 C932,987.3 921.7,982.8 915,978 C908.3,973.2 903.5,967.7 900,961 C896.5,954.3 894,946.3 894,938Z"/>
<path d="M757,1074 C757,1068.3 760,1061 764,1057 C768,1053 775.3,1050 781,1050 C786.7,1050 794,1053 798,1057 C802,1061 805,1068.3 805,1074 C805,1079.7 802,1087 798,1091 C794,1095 786.7,1098 781,1098 C775.3,1098 768,1095 764,1091 C760,1087 757,1079.7 757,1074Z"/>
<path d="M1034,561 C1036,556.7 1043.3,549.8 1049,547 C1054.7,544.2 1063.3,542 1068,544 C1072.7,546 1076.2,554.2 1077,559 C1077.8,563.8 1077,569.5 1073,573 C1069,576.5 1059,580 1053,580 C1047,580 1040.2,576.2 1037,573 C1033.8,569.8 1032,565.3 1034,561Z"/>
<path d="M1470,607 C1467,611.8 1457.8,627.7 1452,636 C1446.2,644.3 1440.7,648.8 1435,657 C1429.3,665.2 1422.2,677.8 1418,685 C1413.8,692.2 1412.2,695 1410,700 C1407.8,705 1405,709.5 1405,715 C1405,720.5 1406.7,727 1410,733 C1413.3,739 1420.8,747.2 1425,751 C1429.2,754.8 1433.3,755.2 1435,756"/>
<path d="M934,942 C935.7,937.7 941.8,931.7 946,929 C950.2,926.3 954.7,925.5 959,926 C963.3,926.5 968.8,928 972,932 C975.2,936 978,944.8 978,950 C978,955.2 975.2,959.8 972,963 C968.8,966.2 963.3,968.7 959,969 C954.7,969.3 949.8,967.3 946,965 C942.2,962.7 938,958.8 936,955 C934,951.2 932.3,946.3 934,942Z"/>
<path d="M1504,636 C1498.8,636 1481.7,634.3 1473,636 C1464.3,637.7 1457.5,641.2 1452,646 C1446.5,650.8 1443.2,657.7 1440,665 C1436.8,672.3 1433.7,682.5 1433,690 C1432.3,697.5 1433.5,704.8 1436,710 C1438.5,715.2 1445.3,718 1448,721 C1450.7,724 1451.3,726.8 1452,728"/>
<path d="M1460,670 C1461.7,669.2 1474.2,671.7 1475,673 C1475.8,674.3 1467.5,678.5 1465,678 C1462.5,677.5 1458.3,670.8 1460,670Z"/>
</g>
<g fill="none" stroke="#000" stroke-width="6" stroke-linejoin="round" stroke-linecap="round"><polyline points="1437,745 1435,758 1435,749 1431,737 1424,726 1412,721 1401,724 1385,719 1376,716 1369,714 1355,724 1348,735 1339,749 1336,760 1318,770 1316,776 1304,786 1293,800 1270,811 1261,804 1251,800 1247,809 1235,816 1224,818 1205,813 1198,818 1194,834 1178,845 1162,864 1150,862 1139,852 1132,855 1127,864 1116,859 1104,864 1086,873 1074,882 1072,910 1074,928 1072,945 1049,953 1030,959 1011,965 993,961 992,950 975,937 963,950 957,963 953,972"/><polyline points="857,850 863,858 880,862 884,869 878,879 888,888 896,902 907,907 919,911 930,919 942,919 946,927 938,936 934,959 949,965 953,974 934,984 922,992 907,999 915,1011 918,1020 917,1032 923,1046 942,1071 950,1063 966,1063 975,1076 983,1101 988,1128 980,1139 978,1152 982,1169 975,1185 978,1194"/><polyline points="978,1194 951,1200 925,1204 890,1204 888,1213 886,1222 872,1228 870,1244 853,1252 842,1257 838,1279 838,1301 848,1307 859,1309 862,1323 857,1338 862,1342 851,1358 855,1371 864,1366 872,1355 884,1358 899,1368 912,1388 918,1410 921,1432 923,1447 908,1447 897,1445 894,1458 890,1467 884,1480 877,1500 866,1509 855,1518 844,1528 834,1539 822,1555 822,1566 829,1577 836,1588 831,1601 822,1609 825,1620 822,1631 812,1636 801,1642 798,1653 798,1666 801,1679 814,1688 822,1693 829,1699 818,1704 805,1699 790,1697 779,1699 757,1704 735,1699 722,1697"/><polyline points="424,1202 426,1211 435,1216 436,1233 433,1251 442,1266 450,1277 459,1290 470,1288 481,1281 485,1284 488,1299 496,1308 503,1312 505,1321 514,1325 514,1340 512,1356 514,1371 522,1382 534,1393 542,1400 544,1413 558,1419 571,1424 579,1430 582,1441 582,1456 586,1465 584,1474 586,1491 579,1502 584,1507 588,1513 597,1522 599,1539 593,1548 591,1557 597,1564 604,1570 608,1577 610,1588 608,1601 617,1601 634,1601 652,1607 669,1614 682,1622 691,1629 689,1636 678,1638 676,1644 682,1653 698,1662 709,1666 718,1671 724,1677 722,1688 722,1701 709,1701 691,1701 674,1708 658,1701 645,1706 643,1712 652,1717 654,1734 654,1752 658,1774 661,1802 669,1813 672,1828 676,1837 674,1850 672,1872 665,1876 665,1883 674,1892 689,1900 692,1910 692,1923 679,1930 663,1943 630,1943 626,1933 620,1923 597,1917 587,1904 577,1900 558,1904 544,1900 520,1895 495,1885"/><polyline points="665,1876 682,1885 696,1892 713,1896 731,1898 742,1890 757,1874 779,1870 798,1865 812,1872 834,1879 853,1881 877,1887 899,1894 921,1892 943,1894 961,1885 983,1859 1005,1850 1027,1841 1049,1837 1070,1833 1092,1828 1119,1828 1136,1833 1145,1828 1171,1833 1184,1841 1176,1850 1180,1854 1193,1868 1224,1894 1250,1916 1267,1920 1272,1907 1289,1894 1311,1868 1355,1859 1381,1841 1381,1815 1400,1812 1415,1805 1421,1794"/><polyline points="978,1194 995,1200 1010,1213 1028,1218 1032,1231 1037,1248 1041,1261 1045,1279 1050,1261 1061,1268 1083,1277 1100,1281 1104,1274 1115,1266 1133,1264 1131,1246 1142,1235 1159,1233 1177,1239 1188,1242 1192,1252 1196,1266 1201,1283 1201,1301 1192,1307 1181,1312 1164,1320 1157,1327 1155,1349 1153,1366 1155,1382 1144,1375 1137,1371 1131,1388 1131,1399 1130,1420 1126,1438 1119,1438 1117,1457 1130,1462 1135,1466 1152,1464 1157,1470 1152,1494 1135,1497 1132,1508 1139,1510 1137,1514 1122,1516 1117,1525 1128,1532 1135,1542 1141,1551 1152,1558 1163,1564 1165,1573 1157,1582 1152,1591 1157,1599 1157,1608 1168,1621 1181,1626 1194,1613 1209,1599 1220,1608 1224,1617 1233,1630 1251,1637 1277,1632 1294,1632 1299,1643 1301,1652 1312,1663 1310,1689 1303,1704 1299,1709 1301,1713 1273,1724 1270,1744 1284,1753 1297,1757 1277,1759 1268,1757 1248,1742 1211,1753 1168,1766 1128,1779 1126,1792 1130,1810 1135,1814 1119,1828"/><polyline points="1201,1283 1212,1279 1220,1273 1228,1284 1237,1293 1251,1296 1262,1313 1280,1304 1288,1307 1302,1319 1300,1350 1314,1356 1334,1361 1356,1356 1359,1341 1356,1327 1371,1310 1388,1313 1405,1322 1413,1302 1422,1290 1442,1307 1453,1313 1470,1316 1493,1322 1499,1307 1490,1284 1482,1267 1476,1250 1487,1233 1504,1225 1521,1222 1527,1205 1536,1196 1538,1174 1547,1171 1553,1179 1570,1174 1584,1165 1595,1156 1615,1174 1627,1162 1644,1151 1655,1145 1669,1139 1678,1136 1675,1128 1669,1114 1669,1097 1661,1091 1664,1071 1658,1057 1655,1043 1652,1030"/><circle cx="1670" cy="1095" r="7" fill="#000"/></g><g font-size="72" fill="#000" stroke="#000" stroke-width="1.3"><text transform="translate(765.6,1004.3) rotate(-35)" x="0" y="26" text-anchor="middle">300</text><text transform="translate(756,1133.7) rotate(-14)" x="0" y="26" text-anchor="middle">200</text><text transform="translate(783,1150) rotate(-20)" x="0" y="26" text-anchor="middle">100</text><text transform="translate(969,1127) rotate(-12)" x="0" y="26" text-anchor="middle">0</text><text transform="translate(1089.7,733) rotate(-39.5)" x="0" y="26" text-anchor="middle">100</text><text transform="translate(1060,470) rotate(45)" x="0" y="26" text-anchor="middle">100</text><text transform="translate(1072,490) rotate(45)" x="0" y="26" text-anchor="middle">200</text><text transform="translate(1402,573) rotate(-67)" x="0" y="26" text-anchor="middle">200</text><text transform="translate(696,1275) rotate(-48)" x="0" y="26" text-anchor="middle">-100</text><text transform="translate(942.5,1414.5) rotate(44)" x="0" y="26" text-anchor="middle">-200</text><text transform="translate(672,1539) rotate(26)" x="0" y="26" text-anchor="middle">-300</text><text transform="translate(486,1865) rotate(45)" x="0" y="26" text-anchor="middle">-400</text><text transform="translate(1353,2020.8) rotate(18)" x="0" y="26" text-anchor="middle">-400</text><text transform="translate(1727.4,1078) rotate(-5)" x="0" y="26" text-anchor="middle">200</text><text transform="translate(1779,992) rotate(-8)" x="0" y="26" text-anchor="middle">100</text></g>
</g>
<path d="M1138,32 L1141,36 L1153,43 L1165,50 L1177,60 L1191,67 L1201,77 L1213,75 L1225,82 L1232,92 L1239,92 L1238,120 L1242,123 L1256,104 L1273,99 L1280,92 L1283,87 L1295,82 L1300,89 L1318,92 L1339,79 L1355,78 L1360,76 L1369,85 L1380,87 L1394,80 L1396,74 L1388,62 L1399,60 L1410,55 L1420,46 L1429,30 L1438,25 L1449,21 L1463,14 L1475,16 L1484,12 L1500,16 L1511,25 L1521,34 L1532,42 L1544,39 L1557,37 L1576,30 L1587,32 L1594,39 L1606,34 L1622,33 L1635,34 L1647,41 L1656,41 L1663,53 L1668,56 L1668,76 L1670,92 L1677,103 L1679,120 L1672,129 L1674,147 L1688,161 L1672,165 L1668,161 L1656,165 L1645,172 L1635,179 L1622,186 L1610,188 L1606,195 L1596,202 L1594,214 L1601,225 L1610,234 L1617,239 L1619,253 L1610,253 L1599,248 L1587,244 L1576,253 L1564,248 L1548,246 L1539,253 L1528,264 L1518,262 L1516,278 L1502,283 L1493,294 L1488,310 L1491,322 L1482,329 L1472,340 L1463,352 L1461,363 L1465,372 L1461,381 L1449,388 L1433,393 L1431,404 L1429,420 L1421,424 L1406,422 L1398,428 L1383,436 L1381,453 L1381,467 L1369,476 L1360,486 L1358,501 L1362,515 L1369,523 L1371,532 L1385,538 L1390,546 L1408,552 L1414,546 L1427,544 L1431,552 L1427,559 L1427,565 L1435,567 L1460,567 L1462,584 L1464,598 L1473,607 L1481,615 L1493,621 L1504,630 L1506,650 L1504,667 L1502,677 L1498,686 L1485,698 L1473,706 L1464,715 L1452,725 L1446,733 L1437,746 L1435,760 L1445,776 L1450,796 L1455,814 L1457,831 L1455,859 L1462,871 L1478,874 L1490,882 L1493,886 L1503,892 L1523,897 L1528,904 L1535,917 L1540,919 L1530,927 L1543,942 L1548,952 L1545,965 L1568,982 L1572,1000 L1585,1008 L1598,1021 L1607,1000 L1625,1004 L1642,1017 L1646,1030 L1655,1043 L1665,1045 L1681,1032 L1697,1016 L1706,1006 L1712,991 L1725,1002 L1734,992 L1745,973 L1753,968 L1771,978 L1771,989 L1783,989 L1791,986 L1801,973 L1817,969 L1829,969 L1830,976 L1827,983 L1832,996 L1845,1004 L1857,994 L1868,989 L1873,1004 L1883,1002 L1896,996 L1901,989 L1896,978 L1899,970 L1903,978 L1909,983 L1914,992 L1917,1001 L1924,1004 L1926,1006 L1916,1009 L1911,1017 L1912,1029 L1911,1034 L1919,1042 L1929,1055 L1935,1065 L1944,1078 L1948,1096 L1962,1100 L1966,1126 L1979,1144 L1984,1161 L1992,1174 L2010,1188 L2022,1201 L2010,1210 L1931,1223 L1887,1236 L1865,1244 L1852,1258 L1826,1275 L1773,1301 L1743,1332 L1716,1350 L1660,1380 L1594,1415 L1528,1450 L1489,1472 L1463,1476 L1441,1500 L1423,1531 L1410,1561 L1406,1588 L1397,1618 L1390,1658 L1388,1701 L1393,1736 L1401,1767 L1415,1780 L1421,1793 L1417,1815 L1419,1846 L1426,1876 L1450,1898 L1467,1916 L1485,1933 L1506,1946 L1537,1973 L1568,1986 L1594,1999 L1607,2008 L1612,2016 L1603,2021 L1585,2034 L1576,2069 L1568,2104 L1555,2126 L1550,2148 L1546,2161 L1533,2165 L1524,2152 L1524,2122 L1524,2100 L1511,2095 L1493,2108 L1485,2122 L1480,2130 L1485,2143 L1493,2152 L1489,2174 L1489,2183 L1506,2196 L1511,2205 L1502,2218 L1493,2218 L1476,2200 L1458,2178 L1450,2156 L1445,2148 L1410,2143 L1397,2122 L1393,2091 L1401,2078 L1397,2056 L1380,2051 L1371,2060 L1349,2069 L1336,2065 L1318,2069 L1305,2060 L1288,2060 L1274,2069 L1266,2056 L1257,2043 L1244,2034 L1226,2021 L1224,2021 L1193,2012 L1158,2012 L1123,2008 L1092,2016 L1049,2021 L1005,2021 L987,2030 L961,2043 L944,2051 L939,2073 L926,2082 L896,2091 L869,2104 L847,2126 L830,2130 L821,2122 L808,2095 L786,2091 L751,2078 L720,2078 L694,2086 L683,2086 L685,2056 L681,2043 L655,2034 L628,2025 L608,2025 L591,2008 L560,1990 L551,1981 L551,1964 L543,1946 L530,1955 L508,1946 L473,1942 L477,1924 L477,1907 L486,1885 L460,1868 L442,1872 L429,1890 L411,1885 L403,1898 L368,1885 L354,1876 L359,1863 L363,1839 L341,1833 L324,1837 L324,1802 L315,1784 L289,1776 L271,1763 L263,1743 L245,1736 L228,1732 L214,1723 L197,1714 L188,1693 L175,1680 L166,1666 L144,1653 L114,1675 L101,1680 L94,1653 L79,1649 L83,1631 L68,1623 L64,1612 L74,1605 L85,1592 L74,1579 L88,1561 L88,1535 L70,1526 L44,1524 L26,1535 L31,1509 L26,1491 L22,1430 L22,1398 L13,1323 L52,1266 L105,1183 L153,1089 L206,1087 L206,1096 L214,1113 L206,1126 L197,1135 L193,1153 L184,1166 L179,1174 L197,1183 L210,1188 L223,1192 L236,1201 L245,1218 L263,1231 L271,1223 L284,1223 L289,1201 L306,1188 L320,1179 L333,1192 L350,1183 L359,1192 L381,1196 L398,1205 L411,1210 L424,1201 L427,1170 L451,1161 L460,1131 L455,1096 L473,1098 L464,1074 L464,1048 L486,1021 L499,982 L512,978 L516,943 L543,938 L556,929 L586,943 L600,912 L617,903 L606,864 L630,859 L665,855 L678,842 L700,829 L740,824 L766,829 L777,855 L795,864 L812,877 L825,877 L834,870 L847,868 L860,851 L858,839 L852,821 L848,814 L842,811 L852,803 L853,800 L845,796 L842,790 L848,783 L858,780 L871,776 L871,767 L865,760 L857,754 L855,744 L853,730 L855,722 L862,724 L868,726 L875,717 L880,712 L890,711 L896,709 L904,709 L909,717 L916,716 L922,708 L930,709 L947,706 L960,703 L972,699 L988,694 L1004,690 L1016,686 L1024,679 L1029,667 L1039,643 L1046,633 L1048,621 L1063,619 L1073,604 L1073,590 L1056,590 L1048,578 L1036,566 L1034,551 L1046,535 L1022,532 L1011,523 L1005,503 L969,510 L962,494 L967,472 L964,450 L940,438 L938,424 L918,414 L916,409 L950,389 L963,400 L963,378 L967,359 L964,344 L967,337 L975,322 L996,303 L1004,296 L1001,284 L992,274 L972,272 L953,270 L941,267 L941,253 L943,243 L953,234 L970,224 L984,219 L1001,214 L1006,212 L1018,205 L1030,207 L1044,207 L1047,200 L1054,193 L1068,188 L1078,188 L1088,200 L1095,193 L1100,183 L1109,168 L1112,159 L1117,147 L1124,142 L1126,130 L1124,111 L1129,99 L1136,96 L1138,82 L1143,65 L1138,55Z" fill="none" stroke="#000" stroke-width="2.5"/>
<g font-size="72" fill="#000" stroke="#000" stroke-width="0.5">
<rect x="159.5" y="34.2" width="64" height="85.3" fill="#0000FF" stroke="#000" stroke-width="1.2"/><rect x="159.5" y="119.5" width="64" height="85.3" fill="#0010FF" stroke="#000" stroke-width="1.2"/><rect x="159.5" y="204.8" width="64" height="85.3" fill="#0038FF" stroke="#000" stroke-width="1.2"/><rect x="159.5" y="290.0" width="64" height="85.3" fill="#0A6AFF" stroke="#000" stroke-width="1.2"/><rect x="159.5" y="375.3" width="64" height="85.3" fill="#0A8FFF" stroke="#000" stroke-width="1.2"/><rect x="159.5" y="460.6" width="64" height="85.3" fill="#00BBFF" stroke="#000" stroke-width="1.2"/><rect x="159.5" y="545.9" width="64" height="85.3" fill="#00DDFF" stroke="#000" stroke-width="1.2"/><rect x="159.5" y="631.1" width="64" height="85.3" fill="#FFFF00" stroke="#000" stroke-width="1.2"/><rect x="159.5" y="716.4" width="64" height="85.3" fill="#FFD700" stroke="#000" stroke-width="1.2"/><rect x="159.5" y="801.7" width="64" height="85.3" fill="#FFB000" stroke="#000" stroke-width="1.2"/><rect x="159.5" y="886.9" width="64" height="85.3" fill="#FF8800" stroke="#000" stroke-width="1.2"/><rect x="159.5" y="972.2" width="64" height="85.3" fill="#FF6600" stroke="#000" stroke-width="1.2"/><text x="241" y="144.5">600</text><text x="241" y="229.8">500</text><text x="241" y="315.0">400</text><text x="241" y="400.3">300</text><text x="241" y="485.6">200</text><text x="241" y="570.9">100</text><text x="241" y="656.1">0</text><text x="241" y="741.4">-100</text><text x="241" y="826.7">-200</text><text x="241" y="911.9">-300</text><text x="241" y="997.2">-400</text><text x="241" y="1082.5">-500</text>
</g>
</svg>
</body></html>
